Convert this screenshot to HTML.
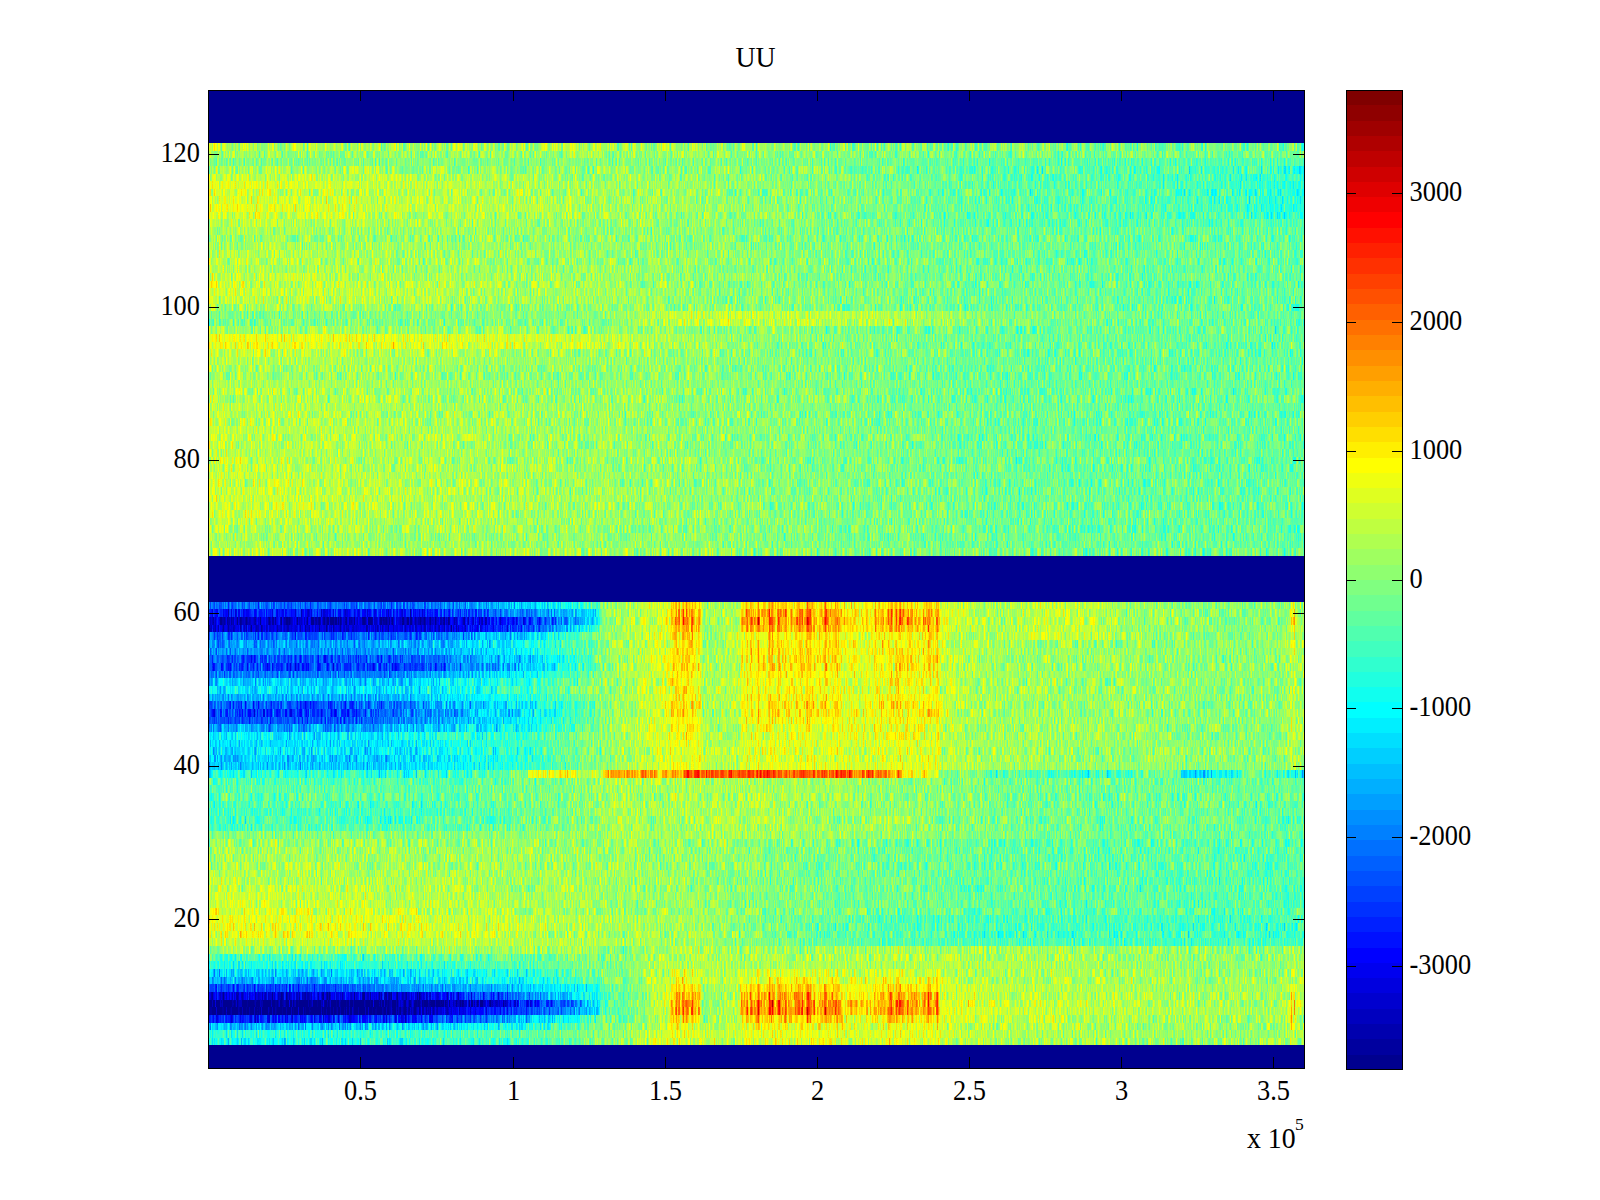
<!DOCTYPE html>
<html lang="en"><head><meta charset="utf-8"><title>UU</title>
<style>
html,body{margin:0;padding:0;background:#fff;overflow:hidden}
svg{display:block}
text{font-family:"Liberation Serif","DejaVu Serif",serif;font-size:27.8px;fill:#000}
</style></head>
<body>
<svg width="1600" height="1200" viewBox="0 0 1600 1200">
<defs>
<filter id="f" x="0" y="0" width="1" height="1" color-interpolation-filters="sRGB">
<feTurbulence type="fractalNoise" baseFrequency="0.57 0.004" numOctaves="2" seed="5" result="n"/>
<feColorMatrix in="n" type="matrix" values="1 0 0 0 0 1 0 0 0 0 1 0 0 0 0 0 0 0 0 1" result="m"/>
<feComposite in="SourceGraphic" in2="m" operator="arithmetic" k1="0" k2="1" k3="0.32" k4="-0.16" result="v"/>
<feComponentTransfer in="v">
<feFuncR type="discrete" tableValues="0 0 0 0 0 0 0 0 0 0 0 0 0 0 0 0 0 0 0 0 0 0 0 0 0.0625 0.125 0.1875 0.25 0.3125 0.375 0.4375 0.5 0.5625 0.625 0.6875 0.75 0.8125 0.875 0.9375 1 1 1 1 1 1 1 1 1 1 1 1 1 1 1 1 1 0.9375 0.875 0.8125 0.75 0.6875 0.625 0.5625 0.5"/>
<feFuncG type="discrete" tableValues="0 0 0 0 0 0 0 0 0.0625 0.125 0.1875 0.25 0.3125 0.375 0.4375 0.5 0.5625 0.625 0.6875 0.75 0.8125 0.875 0.9375 1 1 1 1 1 1 1 1 1 1 1 1 1 1 1 1 1 0.9375 0.875 0.8125 0.75 0.6875 0.625 0.5625 0.5 0.4375 0.375 0.3125 0.25 0.1875 0.125 0.0625 0 0 0 0 0 0 0 0 0"/>
<feFuncB type="discrete" tableValues="0.5625 0.625 0.6875 0.75 0.8125 0.875 0.9375 1 1 1 1 1 1 1 1 1 1 1 1 1 1 1 1 1 0.9375 0.875 0.8125 0.75 0.6875 0.625 0.5625 0.5 0.4375 0.375 0.3125 0.25 0.1875 0.125 0.0625 0 0 0 0 0 0 0 0 0 0 0 0 0 0 0 0 0 0 0 0 0 0 0 0 0"/>
</feComponentTransfer>
</filter>
<linearGradient id="gb" gradientUnits="userSpaceOnUse" x1="208" x2="1305"><stop offset="0.4193" stop-color="#fff" stop-opacity="0"/><stop offset="0.4202" stop-color="#fff" stop-opacity="0"/><stop offset="0.4211" stop-color="#fff" stop-opacity="0"/><stop offset="0.4221" stop-color="#fff" stop-opacity="0.354"/><stop offset="0.423" stop-color="#fff" stop-opacity="0.479"/><stop offset="0.4239" stop-color="#fff" stop-opacity="0.374"/><stop offset="0.4248" stop-color="#fff" stop-opacity="0.369"/><stop offset="0.4257" stop-color="#fff" stop-opacity="0.263"/><stop offset="0.4266" stop-color="#fff" stop-opacity="0.703"/><stop offset="0.4275" stop-color="#fff" stop-opacity="0.694"/><stop offset="0.4284" stop-color="#fff" stop-opacity="0.435"/><stop offset="0.4294" stop-color="#fff" stop-opacity="0.877"/><stop offset="0.4303" stop-color="#fff" stop-opacity="0.363"/><stop offset="0.4312" stop-color="#fff" stop-opacity="0.28"/><stop offset="0.4321" stop-color="#fff" stop-opacity="0.345"/><stop offset="0.433" stop-color="#fff" stop-opacity="0.932"/><stop offset="0.4339" stop-color="#fff" stop-opacity="0.683"/><stop offset="0.4348" stop-color="#fff" stop-opacity="0.435"/><stop offset="0.4357" stop-color="#fff" stop-opacity="0.585"/><stop offset="0.4366" stop-color="#fff" stop-opacity="0.85"/><stop offset="0.4376" stop-color="#fff" stop-opacity="0.481"/><stop offset="0.4385" stop-color="#fff" stop-opacity="0.591"/><stop offset="0.4394" stop-color="#fff" stop-opacity="0.366"/><stop offset="0.4403" stop-color="#fff" stop-opacity="0.465"/><stop offset="0.4412" stop-color="#fff" stop-opacity="1"/><stop offset="0.4421" stop-color="#fff" stop-opacity="0.795"/><stop offset="0.443" stop-color="#fff" stop-opacity="0.457"/><stop offset="0.4439" stop-color="#fff" stop-opacity="0.528"/><stop offset="0.4448" stop-color="#fff" stop-opacity="0.503"/><stop offset="0.4458" stop-color="#fff" stop-opacity="0.44"/><stop offset="0.4467" stop-color="#fff" stop-opacity="0.358"/><stop offset="0.4476" stop-color="#fff" stop-opacity="0.966"/><stop offset="0.4485" stop-color="#fff" stop-opacity="0.41"/><stop offset="0.4494" stop-color="#fff" stop-opacity="0.443"/><stop offset="0.4503" stop-color="#fff" stop-opacity="0"/><stop offset="0.4512" stop-color="#fff" stop-opacity="0"/><stop offset="0.4521" stop-color="#fff" stop-opacity="0"/><stop offset="0.4531" stop-color="#fff" stop-opacity="0"/><stop offset="0.454" stop-color="#fff" stop-opacity="0"/><stop offset="0.4549" stop-color="#fff" stop-opacity="0"/><stop offset="0.4558" stop-color="#fff" stop-opacity="0"/><stop offset="0.4567" stop-color="#fff" stop-opacity="0"/><stop offset="0.4576" stop-color="#fff" stop-opacity="0"/><stop offset="0.4585" stop-color="#fff" stop-opacity="0"/><stop offset="0.4594" stop-color="#fff" stop-opacity="0"/><stop offset="0.4603" stop-color="#fff" stop-opacity="0"/><stop offset="0.4613" stop-color="#fff" stop-opacity="0"/><stop offset="0.4622" stop-color="#fff" stop-opacity="0"/><stop offset="0.4631" stop-color="#fff" stop-opacity="0"/><stop offset="0.464" stop-color="#fff" stop-opacity="0"/><stop offset="0.4649" stop-color="#fff" stop-opacity="0"/><stop offset="0.4658" stop-color="#fff" stop-opacity="0"/><stop offset="0.4667" stop-color="#fff" stop-opacity="0"/><stop offset="0.4676" stop-color="#fff" stop-opacity="0"/><stop offset="0.4686" stop-color="#fff" stop-opacity="0"/><stop offset="0.4695" stop-color="#fff" stop-opacity="0"/><stop offset="0.4704" stop-color="#fff" stop-opacity="0"/><stop offset="0.4713" stop-color="#fff" stop-opacity="0"/><stop offset="0.4722" stop-color="#fff" stop-opacity="0"/><stop offset="0.4731" stop-color="#fff" stop-opacity="0"/><stop offset="0.474" stop-color="#fff" stop-opacity="0"/><stop offset="0.4749" stop-color="#fff" stop-opacity="0"/><stop offset="0.4758" stop-color="#fff" stop-opacity="0"/><stop offset="0.4768" stop-color="#fff" stop-opacity="0"/><stop offset="0.4777" stop-color="#fff" stop-opacity="0"/><stop offset="0.4786" stop-color="#fff" stop-opacity="0"/><stop offset="0.4795" stop-color="#fff" stop-opacity="0"/><stop offset="0.4804" stop-color="#fff" stop-opacity="0"/><stop offset="0.4813" stop-color="#fff" stop-opacity="0"/><stop offset="0.4822" stop-color="#fff" stop-opacity="0"/><stop offset="0.4831" stop-color="#fff" stop-opacity="0"/><stop offset="0.484" stop-color="#fff" stop-opacity="0"/><stop offset="0.485" stop-color="#fff" stop-opacity="0"/><stop offset="0.4859" stop-color="#fff" stop-opacity="0.438"/><stop offset="0.4868" stop-color="#fff" stop-opacity="0.526"/><stop offset="0.4877" stop-color="#fff" stop-opacity="0.446"/><stop offset="0.4886" stop-color="#fff" stop-opacity="0.337"/><stop offset="0.4895" stop-color="#fff" stop-opacity="0.401"/><stop offset="0.4904" stop-color="#fff" stop-opacity="0.395"/><stop offset="0.4913" stop-color="#fff" stop-opacity="0.92"/><stop offset="0.4923" stop-color="#fff" stop-opacity="0.345"/><stop offset="0.4932" stop-color="#fff" stop-opacity="0.423"/><stop offset="0.4941" stop-color="#fff" stop-opacity="0.434"/><stop offset="0.495" stop-color="#fff" stop-opacity="1"/><stop offset="0.4959" stop-color="#fff" stop-opacity="0.543"/><stop offset="0.4968" stop-color="#fff" stop-opacity="0.457"/><stop offset="0.4977" stop-color="#fff" stop-opacity="0.438"/><stop offset="0.4986" stop-color="#fff" stop-opacity="0.537"/><stop offset="0.4995" stop-color="#fff" stop-opacity="0.571"/><stop offset="0.5005" stop-color="#fff" stop-opacity="0.505"/><stop offset="0.5014" stop-color="#fff" stop-opacity="1"/><stop offset="0.5023" stop-color="#fff" stop-opacity="1"/><stop offset="0.5032" stop-color="#fff" stop-opacity="0.306"/><stop offset="0.5041" stop-color="#fff" stop-opacity="0.567"/><stop offset="0.505" stop-color="#fff" stop-opacity="0.38"/><stop offset="0.5059" stop-color="#fff" stop-opacity="0.442"/><stop offset="0.5068" stop-color="#fff" stop-opacity="0.543"/><stop offset="0.5077" stop-color="#fff" stop-opacity="0.518"/><stop offset="0.5087" stop-color="#fff" stop-opacity="0.34"/><stop offset="0.5096" stop-color="#fff" stop-opacity="0.5"/><stop offset="0.5105" stop-color="#fff" stop-opacity="0.315"/><stop offset="0.5114" stop-color="#fff" stop-opacity="0.979"/><stop offset="0.5123" stop-color="#fff" stop-opacity="1"/><stop offset="0.5132" stop-color="#fff" stop-opacity="0.427"/><stop offset="0.5141" stop-color="#fff" stop-opacity="0.957"/><stop offset="0.515" stop-color="#fff" stop-opacity="0.902"/><stop offset="0.516" stop-color="#fff" stop-opacity="0.55"/><stop offset="0.5169" stop-color="#fff" stop-opacity="0.531"/><stop offset="0.5178" stop-color="#fff" stop-opacity="0.296"/><stop offset="0.5187" stop-color="#fff" stop-opacity="0.425"/><stop offset="0.5196" stop-color="#fff" stop-opacity="1"/><stop offset="0.5205" stop-color="#fff" stop-opacity="0.795"/><stop offset="0.5214" stop-color="#fff" stop-opacity="0.85"/><stop offset="0.5223" stop-color="#fff" stop-opacity="0.484"/><stop offset="0.5232" stop-color="#fff" stop-opacity="0.553"/><stop offset="0.5242" stop-color="#fff" stop-opacity="0.588"/><stop offset="0.5251" stop-color="#fff" stop-opacity="0.334"/><stop offset="0.526" stop-color="#fff" stop-opacity="0.752"/><stop offset="0.5269" stop-color="#fff" stop-opacity="0.809"/><stop offset="0.5278" stop-color="#fff" stop-opacity="0.335"/><stop offset="0.5287" stop-color="#fff" stop-opacity="0.364"/><stop offset="0.5296" stop-color="#fff" stop-opacity="0.473"/><stop offset="0.5305" stop-color="#fff" stop-opacity="0.347"/><stop offset="0.5314" stop-color="#fff" stop-opacity="0.538"/><stop offset="0.5324" stop-color="#fff" stop-opacity="0.562"/><stop offset="0.5333" stop-color="#fff" stop-opacity="0.304"/><stop offset="0.5342" stop-color="#fff" stop-opacity="0.46"/><stop offset="0.5351" stop-color="#fff" stop-opacity="0.543"/><stop offset="0.536" stop-color="#fff" stop-opacity="0.598"/><stop offset="0.5369" stop-color="#fff" stop-opacity="0.716"/><stop offset="0.5378" stop-color="#fff" stop-opacity="0.616"/><stop offset="0.5387" stop-color="#fff" stop-opacity="0.568"/><stop offset="0.5397" stop-color="#fff" stop-opacity="1"/><stop offset="0.5406" stop-color="#fff" stop-opacity="0.355"/><stop offset="0.5415" stop-color="#fff" stop-opacity="1"/><stop offset="0.5424" stop-color="#fff" stop-opacity="0.519"/><stop offset="0.5433" stop-color="#fff" stop-opacity="0.558"/><stop offset="0.5442" stop-color="#fff" stop-opacity="0.346"/><stop offset="0.5451" stop-color="#fff" stop-opacity="0.502"/><stop offset="0.546" stop-color="#fff" stop-opacity="1"/><stop offset="0.5469" stop-color="#fff" stop-opacity="1"/><stop offset="0.5479" stop-color="#fff" stop-opacity="0.796"/><stop offset="0.5488" stop-color="#fff" stop-opacity="0.747"/><stop offset="0.5497" stop-color="#fff" stop-opacity="0.706"/><stop offset="0.5506" stop-color="#fff" stop-opacity="0.546"/><stop offset="0.5515" stop-color="#fff" stop-opacity="0.308"/><stop offset="0.5524" stop-color="#fff" stop-opacity="0.974"/><stop offset="0.5533" stop-color="#fff" stop-opacity="0.407"/><stop offset="0.5542" stop-color="#fff" stop-opacity="0.314"/><stop offset="0.5552" stop-color="#fff" stop-opacity="0.34"/><stop offset="0.5561" stop-color="#fff" stop-opacity="0.301"/><stop offset="0.557" stop-color="#fff" stop-opacity="0.458"/><stop offset="0.5579" stop-color="#fff" stop-opacity="0.511"/><stop offset="0.5588" stop-color="#fff" stop-opacity="0.427"/><stop offset="0.5597" stop-color="#fff" stop-opacity="0.336"/><stop offset="0.5606" stop-color="#fff" stop-opacity="0.397"/><stop offset="0.5615" stop-color="#fff" stop-opacity="0.478"/><stop offset="0.5624" stop-color="#fff" stop-opacity="1"/><stop offset="0.5634" stop-color="#fff" stop-opacity="1"/><stop offset="0.5643" stop-color="#fff" stop-opacity="0.369"/><stop offset="0.5652" stop-color="#fff" stop-opacity="0.611"/><stop offset="0.5661" stop-color="#fff" stop-opacity="0.553"/><stop offset="0.567" stop-color="#fff" stop-opacity="0.583"/><stop offset="0.5679" stop-color="#fff" stop-opacity="0.437"/><stop offset="0.5688" stop-color="#fff" stop-opacity="0.535"/><stop offset="0.5697" stop-color="#fff" stop-opacity="0.564"/><stop offset="0.5706" stop-color="#fff" stop-opacity="0.484"/><stop offset="0.5716" stop-color="#fff" stop-opacity="0.566"/><stop offset="0.5725" stop-color="#fff" stop-opacity="0.924"/><stop offset="0.5734" stop-color="#fff" stop-opacity="0.379"/><stop offset="0.5743" stop-color="#fff" stop-opacity="0.931"/><stop offset="0.5752" stop-color="#fff" stop-opacity="0.331"/><stop offset="0.5761" stop-color="#fff" stop-opacity="0.578"/><stop offset="0.577" stop-color="#fff" stop-opacity="0.235"/><stop offset="0.5779" stop-color="#fff" stop-opacity="0.497"/><stop offset="0.5789" stop-color="#fff" stop-opacity="0.174"/><stop offset="0.5798" stop-color="#fff" stop-opacity="0.224"/><stop offset="0.5807" stop-color="#fff" stop-opacity="0.233"/><stop offset="0.5816" stop-color="#fff" stop-opacity="0.193"/><stop offset="0.5825" stop-color="#fff" stop-opacity="0.251"/><stop offset="0.5834" stop-color="#fff" stop-opacity="0.254"/><stop offset="0.5843" stop-color="#fff" stop-opacity="0.216"/><stop offset="0.5852" stop-color="#fff" stop-opacity="0.288"/><stop offset="0.5861" stop-color="#fff" stop-opacity="0.423"/><stop offset="0.5871" stop-color="#fff" stop-opacity="0.381"/><stop offset="0.588" stop-color="#fff" stop-opacity="0.222"/><stop offset="0.5889" stop-color="#fff" stop-opacity="0.436"/><stop offset="0.5898" stop-color="#fff" stop-opacity="0.364"/><stop offset="0.5907" stop-color="#fff" stop-opacity="0.319"/><stop offset="0.5916" stop-color="#fff" stop-opacity="0.304"/><stop offset="0.5925" stop-color="#fff" stop-opacity="0.18"/><stop offset="0.5934" stop-color="#fff" stop-opacity="0.225"/><stop offset="0.5943" stop-color="#fff" stop-opacity="0.202"/><stop offset="0.5953" stop-color="#fff" stop-opacity="0.239"/><stop offset="0.5962" stop-color="#fff" stop-opacity="0.209"/><stop offset="0.5971" stop-color="#fff" stop-opacity="0.248"/><stop offset="0.598" stop-color="#fff" stop-opacity="0.32"/><stop offset="0.5989" stop-color="#fff" stop-opacity="0.227"/><stop offset="0.5998" stop-color="#fff" stop-opacity="0.273"/><stop offset="0.6007" stop-color="#fff" stop-opacity="0.543"/><stop offset="0.6016" stop-color="#fff" stop-opacity="0.291"/><stop offset="0.6026" stop-color="#fff" stop-opacity="0.172"/><stop offset="0.6035" stop-color="#fff" stop-opacity="0.29"/><stop offset="0.6044" stop-color="#fff" stop-opacity="0.324"/><stop offset="0.6053" stop-color="#fff" stop-opacity="0.265"/><stop offset="0.6062" stop-color="#fff" stop-opacity="0.211"/><stop offset="0.6071" stop-color="#fff" stop-opacity="0.277"/><stop offset="0.608" stop-color="#fff" stop-opacity="0.557"/><stop offset="0.6089" stop-color="#fff" stop-opacity="0.613"/><stop offset="0.6098" stop-color="#fff" stop-opacity="0.187"/><stop offset="0.6108" stop-color="#fff" stop-opacity="0.329"/><stop offset="0.6117" stop-color="#fff" stop-opacity="0.594"/><stop offset="0.6126" stop-color="#fff" stop-opacity="0.235"/><stop offset="0.6135" stop-color="#fff" stop-opacity="0.596"/><stop offset="0.6144" stop-color="#fff" stop-opacity="0.393"/><stop offset="0.6153" stop-color="#fff" stop-opacity="0.534"/><stop offset="0.6162" stop-color="#fff" stop-opacity="0.464"/><stop offset="0.6171" stop-color="#fff" stop-opacity="0.333"/><stop offset="0.618" stop-color="#fff" stop-opacity="0.425"/><stop offset="0.619" stop-color="#fff" stop-opacity="0.282"/><stop offset="0.6199" stop-color="#fff" stop-opacity="0.633"/><stop offset="0.6208" stop-color="#fff" stop-opacity="0.553"/><stop offset="0.6217" stop-color="#fff" stop-opacity="0.675"/><stop offset="0.6226" stop-color="#fff" stop-opacity="0.74"/><stop offset="0.6235" stop-color="#fff" stop-opacity="0.845"/><stop offset="0.6244" stop-color="#fff" stop-opacity="0.351"/><stop offset="0.6253" stop-color="#fff" stop-opacity="0.346"/><stop offset="0.6263" stop-color="#fff" stop-opacity="0.261"/><stop offset="0.6272" stop-color="#fff" stop-opacity="0.878"/><stop offset="0.6281" stop-color="#fff" stop-opacity="0.817"/><stop offset="0.629" stop-color="#fff" stop-opacity="0.392"/><stop offset="0.6299" stop-color="#fff" stop-opacity="0.79"/><stop offset="0.6308" stop-color="#fff" stop-opacity="0.827"/><stop offset="0.6317" stop-color="#fff" stop-opacity="0.653"/><stop offset="0.6326" stop-color="#fff" stop-opacity="0.442"/><stop offset="0.6335" stop-color="#fff" stop-opacity="0.794"/><stop offset="0.6345" stop-color="#fff" stop-opacity="0.307"/><stop offset="0.6354" stop-color="#fff" stop-opacity="0.363"/><stop offset="0.6363" stop-color="#fff" stop-opacity="0.392"/><stop offset="0.6372" stop-color="#fff" stop-opacity="0.3"/><stop offset="0.6381" stop-color="#fff" stop-opacity="0.937"/><stop offset="0.639" stop-color="#fff" stop-opacity="0.34"/><stop offset="0.6399" stop-color="#fff" stop-opacity="0.458"/><stop offset="0.6408" stop-color="#fff" stop-opacity="0.444"/><stop offset="0.6418" stop-color="#fff" stop-opacity="0.743"/><stop offset="0.6427" stop-color="#fff" stop-opacity="0.397"/><stop offset="0.6436" stop-color="#fff" stop-opacity="0.313"/><stop offset="0.6445" stop-color="#fff" stop-opacity="0.424"/><stop offset="0.6454" stop-color="#fff" stop-opacity="0.371"/><stop offset="0.6463" stop-color="#fff" stop-opacity="0.349"/><stop offset="0.6472" stop-color="#fff" stop-opacity="0.459"/><stop offset="0.6481" stop-color="#fff" stop-opacity="0.249"/><stop offset="0.649" stop-color="#fff" stop-opacity="0.374"/><stop offset="0.65" stop-color="#fff" stop-opacity="0.317"/><stop offset="0.6509" stop-color="#fff" stop-opacity="0.244"/><stop offset="0.6518" stop-color="#fff" stop-opacity="0.423"/><stop offset="0.6527" stop-color="#fff" stop-opacity="0.674"/><stop offset="0.6536" stop-color="#fff" stop-opacity="0.459"/><stop offset="0.6545" stop-color="#fff" stop-opacity="0.385"/><stop offset="0.6554" stop-color="#fff" stop-opacity="0.319"/><stop offset="0.6563" stop-color="#fff" stop-opacity="0.803"/><stop offset="0.6572" stop-color="#fff" stop-opacity="0.745"/><stop offset="0.6582" stop-color="#fff" stop-opacity="0.633"/><stop offset="0.6591" stop-color="#fff" stop-opacity="0.667"/><stop offset="0.66" stop-color="#fff" stop-opacity="0.328"/><stop offset="0.6609" stop-color="#fff" stop-opacity="0.325"/><stop offset="0.6618" stop-color="#fff" stop-opacity="0.454"/><stop offset="0.6627" stop-color="#fff" stop-opacity="0.317"/><stop offset="0.6636" stop-color="#fff" stop-opacity="0.457"/><stop offset="0.6645" stop-color="#fff" stop-opacity="0.922"/><stop offset="0.6655" stop-color="#fff" stop-opacity="0.643"/><stop offset="0.6664" stop-color="#fff" stop-opacity="0.319"/><stop offset="0.6673" stop-color="#fff" stop-opacity="0.0741"/><stop offset="0.6682" stop-color="#fff" stop-opacity="0.117"/><stop offset="0.6691" stop-color="#fff" stop-opacity="0.0813"/><stop offset="0.67" stop-color="#fff" stop-opacity="0.0653"/><stop offset="0.6709" stop-color="#fff" stop-opacity="0.176"/><stop offset="0.6718" stop-color="#fff" stop-opacity="0.187"/><stop offset="0.6727" stop-color="#fff" stop-opacity="0.0622"/><stop offset="0.6737" stop-color="#fff" stop-opacity="0.0948"/><stop offset="0.6746" stop-color="#fff" stop-opacity="0.175"/><stop offset="0.6755" stop-color="#fff" stop-opacity="0.101"/><stop offset="0.6764" stop-color="#fff" stop-opacity="0.161"/><stop offset="0.6773" stop-color="#fff" stop-opacity="0.0502"/><stop offset="0.6782" stop-color="#fff" stop-opacity="0.0935"/><stop offset="0.6791" stop-color="#fff" stop-opacity="0.0636"/><stop offset="0.68" stop-color="#fff" stop-opacity="0.0801"/><stop offset="0.6809" stop-color="#fff" stop-opacity="0.126"/><stop offset="0.6819" stop-color="#fff" stop-opacity="0.0473"/><stop offset="0.6828" stop-color="#fff" stop-opacity="0.0469"/><stop offset="0.6837" stop-color="#fff" stop-opacity="0.0477"/><stop offset="0.6846" stop-color="#fff" stop-opacity="0.109"/><stop offset="0.6855" stop-color="#fff" stop-opacity="0.0414"/><stop offset="0.6864" stop-color="#fff" stop-opacity="0.0401"/><stop offset="0.6873" stop-color="#fff" stop-opacity="0.15"/><stop offset="0.6882" stop-color="#fff" stop-opacity="0.098"/><stop offset="0.6892" stop-color="#fff" stop-opacity="0.0543"/><stop offset="0.6901" stop-color="#fff" stop-opacity="0.0386"/><stop offset="0.691" stop-color="#fff" stop-opacity="0.0409"/><stop offset="0.6919" stop-color="#fff" stop-opacity="0.0585"/><stop offset="0.6928" stop-color="#fff" stop-opacity="0.125"/><stop offset="0.6937" stop-color="#fff" stop-opacity="0.0455"/><stop offset="0.6946" stop-color="#fff" stop-opacity="0.0296"/><stop offset="0.6955" stop-color="#fff" stop-opacity="0.0911"/><stop offset="0.6964" stop-color="#fff" stop-opacity="0.0288"/><stop offset="0.6974" stop-color="#fff" stop-opacity="0.0905"/><stop offset="0.6983" stop-color="#fff" stop-opacity="0.0831"/><stop offset="0.6992" stop-color="#fff" stop-opacity="0.0477"/><stop offset="0.7001" stop-color="#fff" stop-opacity="0.0441"/><stop offset="0.701" stop-color="#fff" stop-opacity="0.0371"/><stop offset="0.7019" stop-color="#fff" stop-opacity="0.0307"/><stop offset="0.7028" stop-color="#fff" stop-opacity="0.0388"/><stop offset="0.7037" stop-color="#fff" stop-opacity="0.0377"/><stop offset="0.7046" stop-color="#fff" stop-opacity="0.0359"/><stop offset="0.7056" stop-color="#fff" stop-opacity="0.0311"/><stop offset="0.7065" stop-color="#fff" stop-opacity="0.0184"/><stop offset="0.7074" stop-color="#fff" stop-opacity="0.0496"/><stop offset="0.7083" stop-color="#fff" stop-opacity="0.0223"/><stop offset="0.7092" stop-color="#fff" stop-opacity="0.0211"/><stop offset="0.7101" stop-color="#fff" stop-opacity="0.0533"/><stop offset="0.711" stop-color="#fff" stop-opacity="0.0364"/><stop offset="0.7119" stop-color="#fff" stop-opacity="0.0306"/><stop offset="0.7129" stop-color="#fff" stop-opacity="0.0137"/><stop offset="0.7138" stop-color="#fff" stop-opacity="0.0161"/><stop offset="0.7147" stop-color="#fff" stop-opacity="0.00946"/><stop offset="0.7156" stop-color="#fff" stop-opacity="0.0103"/><stop offset="0.7165" stop-color="#fff" stop-opacity="0.00652"/><stop offset="0.7174" stop-color="#fff" stop-opacity="0.0113"/><stop offset="0.7183" stop-color="#fff" stop-opacity="0.0124"/><stop offset="0.7192" stop-color="#fff" stop-opacity="0.00902"/><stop offset="0.7201" stop-color="#fff" stop-opacity="0.00654"/><stop offset="0.7211" stop-color="#fff" stop-opacity="0.00359"/><stop offset="0.722" stop-color="#fff" stop-opacity="0"/><stop offset="0.7229" stop-color="#fff" stop-opacity="0"/><stop offset="0.7238" stop-color="#fff" stop-opacity="0"/><stop offset="0.7247" stop-color="#fff" stop-opacity="0"/><stop offset="0.9845" stop-color="#fff" stop-opacity="0"/><stop offset="0.9866" stop-color="#fff" stop-opacity="0"/><stop offset="0.9875" stop-color="#fff" stop-opacity="0.625"/><stop offset="0.9884" stop-color="#fff" stop-opacity="0.156"/><stop offset="0.9895" stop-color="#fff" stop-opacity="0.156"/><stop offset="0.9903" stop-color="#fff" stop-opacity="0.562"/><stop offset="0.9912" stop-color="#fff" stop-opacity="0.0625"/><stop offset="0.9927" stop-color="#fff" stop-opacity="0"/><stop offset="0.9991" stop-color="#fff" stop-opacity="0"/></linearGradient>
<linearGradient id="g4" gradientUnits="userSpaceOnUse" x1="208" x2="1305"><stop offset="0" stop-color="#616161"/><stop offset="0.1112" stop-color="#616161"/><stop offset="0.2935" stop-color="#717171"/><stop offset="0.3564" stop-color="#808080"/><stop offset="0.3582" stop-color="#818181"/><stop offset="0.3801" stop-color="#838383"/><stop offset="0.3984" stop-color="#8c8c8c"/><stop offset="0.4102" stop-color="#909090"/><stop offset="0.4211" stop-color="#929292"/><stop offset="0.4503" stop-color="#8e8e8e"/><stop offset="0.4576" stop-color="#8f8f8f"/><stop offset="0.4831" stop-color="#8f8f8f"/><stop offset="0.6673" stop-color="#909090"/><stop offset="0.722" stop-color="#8a8a8a"/><stop offset="0.8131" stop-color="#878787"/><stop offset="0.9043" stop-color="#848484"/><stop offset="0.9772" stop-color="#828282"/><stop offset="0.9845" stop-color="#898989"/><stop offset="0.9991" stop-color="#898989"/></linearGradient>
<linearGradient id="g5" gradientUnits="userSpaceOnUse" x1="208" x2="1305"><stop offset="0" stop-color="#686868"/><stop offset="0.1112" stop-color="#686868"/><stop offset="0.2935" stop-color="#757575"/><stop offset="0.3564" stop-color="#818181"/><stop offset="0.3582" stop-color="#808080"/><stop offset="0.3801" stop-color="#838383"/><stop offset="0.3984" stop-color="#8c8c8c"/><stop offset="0.4102" stop-color="#909090"/><stop offset="0.4211" stop-color="#929292"/><stop offset="0.4503" stop-color="#8d8d8d"/><stop offset="0.4576" stop-color="#8f8f8f"/><stop offset="0.4831" stop-color="#8f8f8f"/><stop offset="0.6673" stop-color="#909090"/><stop offset="0.722" stop-color="#8a8a8a"/><stop offset="0.8131" stop-color="#878787"/><stop offset="0.9043" stop-color="#848484"/><stop offset="0.9772" stop-color="#828282"/><stop offset="0.9845" stop-color="#898989"/><stop offset="0.9991" stop-color="#898989"/></linearGradient>
<linearGradient id="g6" gradientUnits="userSpaceOnUse" x1="208" x2="1305"><stop offset="0" stop-color="#4d4d4d"/><stop offset="0.1112" stop-color="#4d4d4d"/><stop offset="0.2935" stop-color="#656565"/><stop offset="0.3564" stop-color="#7a7a7a"/><stop offset="0.3582" stop-color="#7b7b7b"/><stop offset="0.3801" stop-color="#7d7d7d"/><stop offset="0.3984" stop-color="#878787"/><stop offset="0.4102" stop-color="#8d8d8d"/><stop offset="0.4211" stop-color="#8f8f8f"/><stop offset="0.4503" stop-color="#868686"/><stop offset="0.4576" stop-color="#8a8a8a"/><stop offset="0.4831" stop-color="#8b8b8b"/><stop offset="0.6673" stop-color="#8d8d8d"/><stop offset="0.722" stop-color="#8a8a8a"/><stop offset="0.8131" stop-color="#878787"/><stop offset="0.9043" stop-color="#848484"/><stop offset="0.9772" stop-color="#828282"/><stop offset="0.9845" stop-color="#898989"/><stop offset="0.9991" stop-color="#898989"/></linearGradient>
<linearGradient id="g7" gradientUnits="userSpaceOnUse" x1="208" x2="1305"><stop offset="0" stop-color="#252525"/><stop offset="0.175" stop-color="#252525"/><stop offset="0.2662" stop-color="#414141"/><stop offset="0.3209" stop-color="#5f5f5f"/><stop offset="0.3564" stop-color="#707070"/><stop offset="0.3582" stop-color="#767676"/><stop offset="0.3801" stop-color="#7a7a7a"/><stop offset="0.3984" stop-color="#848484"/><stop offset="0.4102" stop-color="#8d8d8d"/><stop offset="0.4211" stop-color="#8f8f8f"/><stop offset="0.4503" stop-color="#808080"/><stop offset="0.4576" stop-color="#878787"/><stop offset="0.4831" stop-color="#8b8b8b"/><stop offset="0.6673" stop-color="#8d8d8d"/><stop offset="0.722" stop-color="#8d8d8d"/><stop offset="0.8131" stop-color="#8a8a8a"/><stop offset="0.9043" stop-color="#868686"/><stop offset="0.9772" stop-color="#858585"/><stop offset="0.9845" stop-color="#8b8b8b"/><stop offset="0.9991" stop-color="#8b8b8b"/></linearGradient>
<linearGradient id="g8" gradientUnits="userSpaceOnUse" x1="208" x2="1305"><stop offset="0" stop-color="#000000"/><stop offset="0.1568" stop-color="#000000"/><stop offset="0.2024" stop-color="#0e0e0e"/><stop offset="0.2662" stop-color="#272727"/><stop offset="0.3209" stop-color="#3d3d3d"/><stop offset="0.3564" stop-color="#555555"/><stop offset="0.3582" stop-color="#727272"/><stop offset="0.3801" stop-color="#777777"/><stop offset="0.3984" stop-color="#838383"/><stop offset="0.4102" stop-color="#8f8f8f"/><stop offset="0.4211" stop-color="#909090"/><stop offset="0.4503" stop-color="#7a7a7a"/><stop offset="0.4576" stop-color="#848484"/><stop offset="0.4831" stop-color="#8d8d8d"/><stop offset="0.6673" stop-color="#8f8f8f"/><stop offset="0.722" stop-color="#909090"/><stop offset="0.8131" stop-color="#8c8c8c"/><stop offset="0.9043" stop-color="#898989"/><stop offset="0.9772" stop-color="#878787"/><stop offset="0.9845" stop-color="#8e8e8e"/><stop offset="0.9991" stop-color="#8e8e8e"/></linearGradient>
<linearGradient id="g9" gradientUnits="userSpaceOnUse" x1="208" x2="1305"><stop offset="0" stop-color="#000000"/><stop offset="0.175" stop-color="#000000"/><stop offset="0.2479" stop-color="#0b0b0b"/><stop offset="0.2935" stop-color="#242424"/><stop offset="0.3209" stop-color="#353535"/><stop offset="0.3391" stop-color="#434343"/><stop offset="0.3564" stop-color="#5b5b5b"/><stop offset="0.3582" stop-color="#727272"/><stop offset="0.3801" stop-color="#777777"/><stop offset="0.3984" stop-color="#838383"/><stop offset="0.4102" stop-color="#8f8f8f"/><stop offset="0.4211" stop-color="#909090"/><stop offset="0.4503" stop-color="#7a7a7a"/><stop offset="0.4576" stop-color="#858585"/><stop offset="0.4831" stop-color="#8d8d8d"/><stop offset="0.6673" stop-color="#8f8f8f"/><stop offset="0.722" stop-color="#909090"/><stop offset="0.8131" stop-color="#8c8c8c"/><stop offset="0.9043" stop-color="#898989"/><stop offset="0.9772" stop-color="#878787"/><stop offset="0.9845" stop-color="#8e8e8e"/><stop offset="0.9991" stop-color="#8e8e8e"/></linearGradient>
<linearGradient id="g10" gradientUnits="userSpaceOnUse" x1="208" x2="1305"><stop offset="0" stop-color="#141414"/><stop offset="0.1933" stop-color="#141414"/><stop offset="0.2662" stop-color="#313131"/><stop offset="0.3118" stop-color="#4f4f4f"/><stop offset="0.3564" stop-color="#646464"/><stop offset="0.3582" stop-color="#737373"/><stop offset="0.3801" stop-color="#787878"/><stop offset="0.3984" stop-color="#838383"/><stop offset="0.4102" stop-color="#8d8d8d"/><stop offset="0.4211" stop-color="#8f8f8f"/><stop offset="0.4503" stop-color="#7d7d7d"/><stop offset="0.4576" stop-color="#858585"/><stop offset="0.4831" stop-color="#8b8b8b"/><stop offset="0.6673" stop-color="#8d8d8d"/><stop offset="0.722" stop-color="#8e8e8e"/><stop offset="0.8131" stop-color="#8b8b8b"/><stop offset="0.9043" stop-color="#888888"/><stop offset="0.9772" stop-color="#868686"/><stop offset="0.9845" stop-color="#8d8d8d"/><stop offset="0.9991" stop-color="#8d8d8d"/></linearGradient>
<linearGradient id="g11" gradientUnits="userSpaceOnUse" x1="208" x2="1305"><stop offset="0" stop-color="#2f2f2f"/><stop offset="0.1112" stop-color="#2f2f2f"/><stop offset="0.175" stop-color="#434343"/><stop offset="0.2662" stop-color="#4c4c4c"/><stop offset="0.3209" stop-color="#5c5c5c"/><stop offset="0.3564" stop-color="#616161"/><stop offset="0.3582" stop-color="#777777"/><stop offset="0.3801" stop-color="#7a7a7a"/><stop offset="0.3984" stop-color="#858585"/><stop offset="0.4102" stop-color="#8d8d8d"/><stop offset="0.4211" stop-color="#8f8f8f"/><stop offset="0.4503" stop-color="#818181"/><stop offset="0.4576" stop-color="#878787"/><stop offset="0.4831" stop-color="#8b8b8b"/><stop offset="0.6673" stop-color="#8d8d8d"/><stop offset="0.722" stop-color="#8d8d8d"/><stop offset="0.8131" stop-color="#8a8a8a"/><stop offset="0.9043" stop-color="#868686"/><stop offset="0.9772" stop-color="#858585"/><stop offset="0.9845" stop-color="#8b8b8b"/><stop offset="0.9991" stop-color="#8b8b8b"/></linearGradient>
<linearGradient id="g12" gradientUnits="userSpaceOnUse" x1="208" x2="1305"><stop offset="0" stop-color="#4a4a4a"/><stop offset="0.1112" stop-color="#4a4a4a"/><stop offset="0.2935" stop-color="#636363"/><stop offset="0.3564" stop-color="#7a7a7a"/><stop offset="0.3582" stop-color="#7b7b7b"/><stop offset="0.3801" stop-color="#7d7d7d"/><stop offset="0.3984" stop-color="#878787"/><stop offset="0.4102" stop-color="#8d8d8d"/><stop offset="0.4211" stop-color="#8f8f8f"/><stop offset="0.4503" stop-color="#868686"/><stop offset="0.4576" stop-color="#8a8a8a"/><stop offset="0.4831" stop-color="#8b8b8b"/><stop offset="0.6673" stop-color="#8d8d8d"/><stop offset="0.722" stop-color="#8b8b8b"/><stop offset="0.8131" stop-color="#888888"/><stop offset="0.9043" stop-color="#858585"/><stop offset="0.9772" stop-color="#838383"/><stop offset="0.9845" stop-color="#8a8a8a"/><stop offset="0.9991" stop-color="#8a8a8a"/></linearGradient>
<linearGradient id="g13" gradientUnits="userSpaceOnUse" x1="208" x2="1305"><stop offset="0" stop-color="#545454"/><stop offset="0.1112" stop-color="#545454"/><stop offset="0.2935" stop-color="#696969"/><stop offset="0.3564" stop-color="#7c7c7c"/><stop offset="0.3582" stop-color="#7b7b7b"/><stop offset="0.3801" stop-color="#7d7d7d"/><stop offset="0.3984" stop-color="#868686"/><stop offset="0.4102" stop-color="#8b8b8b"/><stop offset="0.4211" stop-color="#8d8d8d"/><stop offset="0.4503" stop-color="#878787"/><stop offset="0.4576" stop-color="#898989"/><stop offset="0.4831" stop-color="#8a8a8a"/><stop offset="0.6673" stop-color="#8b8b8b"/><stop offset="0.722" stop-color="#8a8a8a"/><stop offset="0.8131" stop-color="#878787"/><stop offset="0.9043" stop-color="#848484"/><stop offset="0.9772" stop-color="#828282"/><stop offset="0.9845" stop-color="#898989"/><stop offset="0.9991" stop-color="#898989"/></linearGradient>
<linearGradient id="g14" gradientUnits="userSpaceOnUse" x1="208" x2="1305"><stop offset="0" stop-color="#656565"/><stop offset="0.1112" stop-color="#656565"/><stop offset="0.2935" stop-color="#737373"/><stop offset="0.3564" stop-color="#808080"/><stop offset="0.3582" stop-color="#7c7c7c"/><stop offset="0.3801" stop-color="#7e7e7e"/><stop offset="0.3984" stop-color="#868686"/><stop offset="0.4102" stop-color="#8a8a8a"/><stop offset="0.4211" stop-color="#8b8b8b"/><stop offset="0.4503" stop-color="#8a8a8a"/><stop offset="0.4576" stop-color="#8a8a8a"/><stop offset="0.4831" stop-color="#888888"/><stop offset="0.6673" stop-color="#8a8a8a"/><stop offset="0.722" stop-color="#8a8a8a"/><stop offset="0.8131" stop-color="#868686"/><stop offset="0.9043" stop-color="#838383"/><stop offset="0.9772" stop-color="#818181"/><stop offset="0.9845" stop-color="#888888"/><stop offset="0.9991" stop-color="#888888"/></linearGradient>
<linearGradient id="g15" gradientUnits="userSpaceOnUse" x1="208" x2="1305"><stop offset="0" stop-color="#6f6f6f"/><stop offset="0.1112" stop-color="#6f6f6f"/><stop offset="0.2935" stop-color="#797979"/><stop offset="0.3564" stop-color="#838383"/><stop offset="0.3582" stop-color="#7c7c7c"/><stop offset="0.3801" stop-color="#7e7e7e"/><stop offset="0.3984" stop-color="#868686"/><stop offset="0.4102" stop-color="#8a8a8a"/><stop offset="0.4211" stop-color="#8b8b8b"/><stop offset="0.4503" stop-color="#8a8a8a"/><stop offset="0.4576" stop-color="#8a8a8a"/><stop offset="0.4831" stop-color="#888888"/><stop offset="0.6673" stop-color="#8a8a8a"/><stop offset="0.722" stop-color="#8a8a8a"/><stop offset="0.8131" stop-color="#868686"/><stop offset="0.9043" stop-color="#838383"/><stop offset="0.9772" stop-color="#818181"/><stop offset="0.9845" stop-color="#888888"/><stop offset="0.9991" stop-color="#888888"/></linearGradient>
<linearGradient id="g16" gradientUnits="userSpaceOnUse" x1="208" x2="1305"><stop offset="0" stop-color="#858585"/><stop offset="0.1568" stop-color="#858585"/><stop offset="0.2935" stop-color="#878787"/><stop offset="0.3564" stop-color="#898989"/><stop offset="0.3582" stop-color="#7a7a7a"/><stop offset="0.3801" stop-color="#7c7c7c"/><stop offset="0.3984" stop-color="#858585"/><stop offset="0.4102" stop-color="#888888"/><stop offset="0.4211" stop-color="#8a8a8a"/><stop offset="0.4503" stop-color="#888888"/><stop offset="0.4576" stop-color="#888888"/><stop offset="0.4831" stop-color="#868686"/><stop offset="0.6673" stop-color="#888888"/><stop offset="0.722" stop-color="#898989"/><stop offset="0.8131" stop-color="#868686"/><stop offset="0.9043" stop-color="#828282"/><stop offset="0.9772" stop-color="#818181"/><stop offset="0.9845" stop-color="#878787"/><stop offset="0.9991" stop-color="#878787"/></linearGradient>
<linearGradient id="g17" gradientUnits="userSpaceOnUse" x1="208" x2="1305"><stop offset="0" stop-color="#919191"/><stop offset="0.1294" stop-color="#909090"/><stop offset="0.3756" stop-color="#888888"/><stop offset="0.4485" stop-color="#868686"/><stop offset="0.5397" stop-color="#797979"/><stop offset="0.6308" stop-color="#727272"/><stop offset="0.722" stop-color="#707070"/><stop offset="0.9991" stop-color="#6e6e6e"/></linearGradient>
<linearGradient id="g18" gradientUnits="userSpaceOnUse" x1="208" x2="1305"><stop offset="0" stop-color="#989898"/><stop offset="0.1294" stop-color="#969696"/><stop offset="0.3756" stop-color="#888888"/><stop offset="0.4485" stop-color="#868686"/><stop offset="0.5397" stop-color="#797979"/><stop offset="0.6308" stop-color="#727272"/><stop offset="0.722" stop-color="#707070"/><stop offset="0.9991" stop-color="#6e6e6e"/></linearGradient>
<linearGradient id="g19" gradientUnits="userSpaceOnUse" x1="208" x2="1305"><stop offset="0" stop-color="#9a9a9a"/><stop offset="0.1294" stop-color="#989898"/><stop offset="0.3756" stop-color="#888888"/><stop offset="0.4485" stop-color="#868686"/><stop offset="0.5397" stop-color="#797979"/><stop offset="0.6308" stop-color="#727272"/><stop offset="0.722" stop-color="#707070"/><stop offset="0.9991" stop-color="#6e6e6e"/></linearGradient>
<linearGradient id="g20" gradientUnits="userSpaceOnUse" x1="208" x2="1305"><stop offset="0" stop-color="#989898"/><stop offset="0.1294" stop-color="#969696"/><stop offset="0.3756" stop-color="#888888"/><stop offset="0.4485" stop-color="#868686"/><stop offset="0.5397" stop-color="#797979"/><stop offset="0.6308" stop-color="#727272"/><stop offset="0.722" stop-color="#707070"/><stop offset="0.9991" stop-color="#6e6e6e"/></linearGradient>
<linearGradient id="g21" gradientUnits="userSpaceOnUse" x1="208" x2="1305"><stop offset="0" stop-color="#939393"/><stop offset="0.1294" stop-color="#919191"/><stop offset="0.3756" stop-color="#858585"/><stop offset="0.4485" stop-color="#838383"/><stop offset="0.5397" stop-color="#7d7d7d"/><stop offset="0.722" stop-color="#777777"/><stop offset="0.9991" stop-color="#737373"/></linearGradient>
<linearGradient id="g22" gradientUnits="userSpaceOnUse" x1="208" x2="1305"><stop offset="0" stop-color="#919191"/><stop offset="0.1294" stop-color="#909090"/><stop offset="0.3756" stop-color="#858585"/><stop offset="0.4485" stop-color="#838383"/><stop offset="0.5397" stop-color="#7d7d7d"/><stop offset="0.722" stop-color="#777777"/><stop offset="0.9991" stop-color="#737373"/></linearGradient>
<linearGradient id="g23" gradientUnits="userSpaceOnUse" x1="208" x2="1305"><stop offset="0" stop-color="#909090"/><stop offset="0.1294" stop-color="#8e8e8e"/><stop offset="0.3756" stop-color="#858585"/><stop offset="0.4485" stop-color="#838383"/><stop offset="0.5397" stop-color="#7d7d7d"/><stop offset="0.722" stop-color="#777777"/><stop offset="0.9991" stop-color="#737373"/></linearGradient>
<linearGradient id="g24" gradientUnits="userSpaceOnUse" x1="208" x2="1305"><stop offset="0" stop-color="#8e8e8e"/><stop offset="0.1294" stop-color="#8d8d8d"/><stop offset="0.3756" stop-color="#858585"/><stop offset="0.4485" stop-color="#838383"/><stop offset="0.5397" stop-color="#7d7d7d"/><stop offset="0.722" stop-color="#777777"/><stop offset="0.9991" stop-color="#737373"/></linearGradient>
<linearGradient id="g25" gradientUnits="userSpaceOnUse" x1="208" x2="1305"><stop offset="0" stop-color="#8c8c8c"/><stop offset="0.1294" stop-color="#8b8b8b"/><stop offset="0.3756" stop-color="#858585"/><stop offset="0.4485" stop-color="#838383"/><stop offset="0.5397" stop-color="#7d7d7d"/><stop offset="0.722" stop-color="#777777"/><stop offset="0.9991" stop-color="#737373"/></linearGradient>
<linearGradient id="g26" gradientUnits="userSpaceOnUse" x1="208" x2="1305"><stop offset="0" stop-color="#8a8a8a"/><stop offset="0.1294" stop-color="#8a8a8a"/><stop offset="0.3756" stop-color="#858585"/><stop offset="0.4485" stop-color="#838383"/><stop offset="0.5397" stop-color="#7d7d7d"/><stop offset="0.722" stop-color="#777777"/><stop offset="0.9991" stop-color="#737373"/></linearGradient>
<linearGradient id="g27" gradientUnits="userSpaceOnUse" x1="208" x2="1305"><stop offset="0" stop-color="#898989"/><stop offset="0.1294" stop-color="#888888"/><stop offset="0.3756" stop-color="#858585"/><stop offset="0.4485" stop-color="#838383"/><stop offset="0.5397" stop-color="#7d7d7d"/><stop offset="0.722" stop-color="#777777"/><stop offset="0.9991" stop-color="#737373"/></linearGradient>
<linearGradient id="g28" gradientUnits="userSpaceOnUse" x1="208" x2="1305"><stop offset="0" stop-color="#878787"/><stop offset="0.1294" stop-color="#878787"/><stop offset="0.3756" stop-color="#858585"/><stop offset="0.4485" stop-color="#838383"/><stop offset="0.5397" stop-color="#7d7d7d"/><stop offset="0.722" stop-color="#777777"/><stop offset="0.9991" stop-color="#737373"/></linearGradient>
<linearGradient id="g29" gradientUnits="userSpaceOnUse" x1="208" x2="1305"><stop offset="0" stop-color="#868686"/><stop offset="0.1294" stop-color="#868686"/><stop offset="0.3756" stop-color="#858585"/><stop offset="0.4485" stop-color="#838383"/><stop offset="0.5397" stop-color="#7d7d7d"/><stop offset="0.722" stop-color="#777777"/><stop offset="0.9991" stop-color="#737373"/></linearGradient>
<linearGradient id="g30" gradientUnits="userSpaceOnUse" x1="208" x2="1305"><stop offset="0" stop-color="#848484"/><stop offset="0.1294" stop-color="#848484"/><stop offset="0.3756" stop-color="#858585"/><stop offset="0.4485" stop-color="#838383"/><stop offset="0.5397" stop-color="#7d7d7d"/><stop offset="0.722" stop-color="#777777"/><stop offset="0.9991" stop-color="#737373"/></linearGradient>
<linearGradient id="g31" gradientUnits="userSpaceOnUse" x1="208" x2="1305"><stop offset="0" stop-color="#808080"/><stop offset="0.2115" stop-color="#808080"/><stop offset="0.3209" stop-color="#828282"/><stop offset="0.3573" stop-color="#858585"/><stop offset="0.3756" stop-color="#888888"/><stop offset="0.4941" stop-color="#888888"/><stop offset="0.6308" stop-color="#838383"/><stop offset="0.722" stop-color="#7c7c7c"/><stop offset="0.9991" stop-color="#777777"/></linearGradient>
<linearGradient id="g32" gradientUnits="userSpaceOnUse" x1="208" x2="1305"><stop offset="0" stop-color="#717171"/><stop offset="0.2115" stop-color="#737373"/><stop offset="0.3209" stop-color="#7d7d7d"/><stop offset="0.3573" stop-color="#858585"/><stop offset="0.3756" stop-color="#888888"/><stop offset="0.4941" stop-color="#888888"/><stop offset="0.6308" stop-color="#838383"/><stop offset="0.722" stop-color="#7c7c7c"/><stop offset="0.9991" stop-color="#777777"/></linearGradient>
<linearGradient id="g33" gradientUnits="userSpaceOnUse" x1="208" x2="1305"><stop offset="0" stop-color="#6e6e6e"/><stop offset="0.2115" stop-color="#707070"/><stop offset="0.3209" stop-color="#7c7c7c"/><stop offset="0.3573" stop-color="#858585"/><stop offset="0.3756" stop-color="#888888"/><stop offset="0.4941" stop-color="#888888"/><stop offset="0.6308" stop-color="#838383"/><stop offset="0.722" stop-color="#7c7c7c"/><stop offset="0.9991" stop-color="#777777"/></linearGradient>
<linearGradient id="g34" gradientUnits="userSpaceOnUse" x1="208" x2="1305"><stop offset="0" stop-color="#6e6e6e"/><stop offset="0.2115" stop-color="#707070"/><stop offset="0.3209" stop-color="#7c7c7c"/><stop offset="0.3573" stop-color="#858585"/><stop offset="0.3756" stop-color="#888888"/><stop offset="0.4941" stop-color="#888888"/><stop offset="0.6308" stop-color="#838383"/><stop offset="0.722" stop-color="#7c7c7c"/><stop offset="0.9991" stop-color="#777777"/></linearGradient>
<linearGradient id="g35" gradientUnits="userSpaceOnUse" x1="208" x2="1305"><stop offset="0" stop-color="#717171"/><stop offset="0.2115" stop-color="#737373"/><stop offset="0.3209" stop-color="#7d7d7d"/><stop offset="0.3573" stop-color="#858585"/><stop offset="0.3756" stop-color="#888888"/><stop offset="0.4941" stop-color="#888888"/><stop offset="0.6308" stop-color="#838383"/><stop offset="0.722" stop-color="#7c7c7c"/><stop offset="0.9991" stop-color="#777777"/></linearGradient>
<linearGradient id="g36" gradientUnits="userSpaceOnUse" x1="208" x2="1305"><stop offset="0" stop-color="#747474"/><stop offset="0.2115" stop-color="#767676"/><stop offset="0.3209" stop-color="#7e7e7e"/><stop offset="0.3573" stop-color="#858585"/><stop offset="0.3756" stop-color="#888888"/><stop offset="0.4941" stop-color="#888888"/><stop offset="0.6308" stop-color="#838383"/><stop offset="0.722" stop-color="#7c7c7c"/><stop offset="0.9991" stop-color="#777777"/></linearGradient>
<linearGradient id="g37" gradientUnits="userSpaceOnUse" x1="208" x2="1305"><stop offset="0" stop-color="#747474"/><stop offset="0.2115" stop-color="#767676"/><stop offset="0.3209" stop-color="#7e7e7e"/><stop offset="0.3573" stop-color="#858585"/><stop offset="0.3756" stop-color="#888888"/><stop offset="0.4941" stop-color="#888888"/><stop offset="0.6308" stop-color="#838383"/><stop offset="0.722" stop-color="#7c7c7c"/><stop offset="0.9991" stop-color="#777777"/></linearGradient>
<linearGradient id="g38" gradientUnits="userSpaceOnUse" x1="208" x2="1305"><stop offset="0" stop-color="#717171"/><stop offset="0.2115" stop-color="#737373"/><stop offset="0.3209" stop-color="#7d7d7d"/><stop offset="0.3573" stop-color="#858585"/><stop offset="0.3756" stop-color="#888888"/><stop offset="0.4941" stop-color="#888888"/><stop offset="0.6308" stop-color="#838383"/><stop offset="0.722" stop-color="#7c7c7c"/><stop offset="0.9991" stop-color="#777777"/></linearGradient>
<linearGradient id="g39" gradientUnits="userSpaceOnUse" x1="208" x2="1305"><stop offset="0" stop-color="#656565"/><stop offset="0.175" stop-color="#686868"/><stop offset="0.2479" stop-color="#6f6f6f"/><stop offset="0.2662" stop-color="#7c7c7c"/><stop offset="0.2908" stop-color="#808080"/><stop offset="0.2944" stop-color="#9a9a9a"/><stop offset="0.3345" stop-color="#9a9a9a"/><stop offset="0.3373" stop-color="#8d8d8d"/><stop offset="0.3573" stop-color="#909090"/><stop offset="0.361" stop-color="#aeaeae"/><stop offset="0.3938" stop-color="#b9b9b9"/><stop offset="0.412" stop-color="#ababab"/><stop offset="0.433" stop-color="#b5b5b5"/><stop offset="0.4357" stop-color="#d0d0d0"/><stop offset="0.4667" stop-color="#c3c3c3"/><stop offset="0.5032" stop-color="#cdcdcd"/><stop offset="0.5397" stop-color="#bfbfbf"/><stop offset="0.567" stop-color="#cdcdcd"/><stop offset="0.5852" stop-color="#c9c9c9"/><stop offset="0.6035" stop-color="#bfbfbf"/><stop offset="0.6308" stop-color="#b5b5b5"/><stop offset="0.6363" stop-color="#a1a1a1"/><stop offset="0.6627" stop-color="#979797"/><stop offset="0.6673" stop-color="#838383"/><stop offset="0.7065" stop-color="#808080"/><stop offset="0.7101" stop-color="#707070"/><stop offset="0.7584" stop-color="#747474"/><stop offset="0.7949" stop-color="#6a6a6a"/><stop offset="0.8432" stop-color="#6d6d6d"/><stop offset="0.8469" stop-color="#797979"/><stop offset="0.8842" stop-color="#797979"/><stop offset="0.887" stop-color="#575757"/><stop offset="0.9043" stop-color="#515151"/><stop offset="0.9389" stop-color="#656565"/><stop offset="0.9426" stop-color="#757575"/><stop offset="0.9809" stop-color="#757575"/><stop offset="0.9836" stop-color="#5e5e5e"/><stop offset="0.9991" stop-color="#5e5e5e"/></linearGradient>
<linearGradient id="g40" gradientUnits="userSpaceOnUse" x1="208" x2="1305"><stop offset="0" stop-color="#515151"/><stop offset="0.1568" stop-color="#515151"/><stop offset="0.2935" stop-color="#6a6a6a"/><stop offset="0.3564" stop-color="#7f7f7f"/><stop offset="0.3582" stop-color="#818181"/><stop offset="0.3756" stop-color="#868686"/><stop offset="0.4029" stop-color="#909090"/><stop offset="0.4221" stop-color="#959595"/><stop offset="0.4503" stop-color="#8d8d8d"/><stop offset="0.4576" stop-color="#888888"/><stop offset="0.4831" stop-color="#8b8b8b"/><stop offset="0.4859" stop-color="#8d8d8d"/><stop offset="0.6673" stop-color="#8f8f8f"/><stop offset="0.6718" stop-color="#8b8b8b"/><stop offset="0.722" stop-color="#868686"/><stop offset="0.8131" stop-color="#848484"/><stop offset="0.9043" stop-color="#818181"/><stop offset="0.9772" stop-color="#808080"/><stop offset="0.9845" stop-color="#868686"/><stop offset="0.9991" stop-color="#868686"/></linearGradient>
<linearGradient id="g41" gradientUnits="userSpaceOnUse" x1="208" x2="1305"><stop offset="0" stop-color="#515151"/><stop offset="0.1568" stop-color="#515151"/><stop offset="0.2935" stop-color="#6a6a6a"/><stop offset="0.3564" stop-color="#7f7f7f"/><stop offset="0.3582" stop-color="#818181"/><stop offset="0.3756" stop-color="#868686"/><stop offset="0.4029" stop-color="#909090"/><stop offset="0.4221" stop-color="#959595"/><stop offset="0.4503" stop-color="#8e8e8e"/><stop offset="0.4576" stop-color="#888888"/><stop offset="0.4831" stop-color="#8b8b8b"/><stop offset="0.4859" stop-color="#8d8d8d"/><stop offset="0.6673" stop-color="#8f8f8f"/><stop offset="0.6718" stop-color="#8b8b8b"/><stop offset="0.722" stop-color="#868686"/><stop offset="0.8131" stop-color="#848484"/><stop offset="0.9043" stop-color="#818181"/><stop offset="0.9772" stop-color="#808080"/><stop offset="0.9845" stop-color="#868686"/><stop offset="0.9991" stop-color="#868686"/></linearGradient>
<linearGradient id="g42" gradientUnits="userSpaceOnUse" x1="208" x2="1305"><stop offset="0" stop-color="#575757"/><stop offset="0.1568" stop-color="#575757"/><stop offset="0.2935" stop-color="#6e6e6e"/><stop offset="0.3564" stop-color="#818181"/><stop offset="0.3582" stop-color="#818181"/><stop offset="0.3756" stop-color="#868686"/><stop offset="0.4029" stop-color="#909090"/><stop offset="0.4221" stop-color="#959595"/><stop offset="0.4503" stop-color="#8e8e8e"/><stop offset="0.4576" stop-color="#888888"/><stop offset="0.4831" stop-color="#8b8b8b"/><stop offset="0.4859" stop-color="#8d8d8d"/><stop offset="0.6673" stop-color="#8f8f8f"/><stop offset="0.6718" stop-color="#8b8b8b"/><stop offset="0.722" stop-color="#868686"/><stop offset="0.8131" stop-color="#848484"/><stop offset="0.9043" stop-color="#818181"/><stop offset="0.9772" stop-color="#808080"/><stop offset="0.9845" stop-color="#868686"/><stop offset="0.9991" stop-color="#868686"/></linearGradient>
<linearGradient id="g43" gradientUnits="userSpaceOnUse" x1="208" x2="1305"><stop offset="0" stop-color="#575757"/><stop offset="0.1568" stop-color="#575757"/><stop offset="0.2935" stop-color="#6e6e6e"/><stop offset="0.3564" stop-color="#818181"/><stop offset="0.3582" stop-color="#818181"/><stop offset="0.3756" stop-color="#868686"/><stop offset="0.4029" stop-color="#909090"/><stop offset="0.4221" stop-color="#959595"/><stop offset="0.4503" stop-color="#8d8d8d"/><stop offset="0.4576" stop-color="#888888"/><stop offset="0.4831" stop-color="#8b8b8b"/><stop offset="0.4859" stop-color="#8d8d8d"/><stop offset="0.6673" stop-color="#8f8f8f"/><stop offset="0.6718" stop-color="#8b8b8b"/><stop offset="0.722" stop-color="#868686"/><stop offset="0.8131" stop-color="#848484"/><stop offset="0.9043" stop-color="#818181"/><stop offset="0.9772" stop-color="#808080"/><stop offset="0.9845" stop-color="#868686"/><stop offset="0.9991" stop-color="#868686"/></linearGradient>
<linearGradient id="g44" gradientUnits="userSpaceOnUse" x1="208" x2="1305"><stop offset="0" stop-color="#5b5b5b"/><stop offset="0.1568" stop-color="#5b5b5b"/><stop offset="0.2935" stop-color="#707070"/><stop offset="0.3564" stop-color="#818181"/><stop offset="0.3582" stop-color="#818181"/><stop offset="0.3756" stop-color="#868686"/><stop offset="0.4029" stop-color="#909090"/><stop offset="0.4221" stop-color="#959595"/><stop offset="0.4503" stop-color="#8d8d8d"/><stop offset="0.4576" stop-color="#888888"/><stop offset="0.4831" stop-color="#8b8b8b"/><stop offset="0.4859" stop-color="#8d8d8d"/><stop offset="0.6673" stop-color="#8f8f8f"/><stop offset="0.6718" stop-color="#8b8b8b"/><stop offset="0.722" stop-color="#868686"/><stop offset="0.8131" stop-color="#848484"/><stop offset="0.9043" stop-color="#818181"/><stop offset="0.9772" stop-color="#808080"/><stop offset="0.9845" stop-color="#868686"/><stop offset="0.9991" stop-color="#868686"/></linearGradient>
<linearGradient id="g45" gradientUnits="userSpaceOnUse" x1="208" x2="1305"><stop offset="0" stop-color="#464646"/><stop offset="0.1568" stop-color="#464646"/><stop offset="0.2935" stop-color="#656565"/><stop offset="0.3564" stop-color="#7d7d7d"/><stop offset="0.3582" stop-color="#818181"/><stop offset="0.3756" stop-color="#868686"/><stop offset="0.4029" stop-color="#909090"/><stop offset="0.4221" stop-color="#959595"/><stop offset="0.4503" stop-color="#8c8c8c"/><stop offset="0.4576" stop-color="#888888"/><stop offset="0.4831" stop-color="#8b8b8b"/><stop offset="0.4859" stop-color="#8d8d8d"/><stop offset="0.6673" stop-color="#8f8f8f"/><stop offset="0.6718" stop-color="#8b8b8b"/><stop offset="0.722" stop-color="#868686"/><stop offset="0.8131" stop-color="#848484"/><stop offset="0.9043" stop-color="#818181"/><stop offset="0.9772" stop-color="#808080"/><stop offset="0.9845" stop-color="#868686"/><stop offset="0.9991" stop-color="#868686"/></linearGradient>
<linearGradient id="g46" gradientUnits="userSpaceOnUse" x1="208" x2="1305"><stop offset="0" stop-color="#323232"/><stop offset="0.1294" stop-color="#323232"/><stop offset="0.2935" stop-color="#5e5e5e"/><stop offset="0.3564" stop-color="#7a7a7a"/><stop offset="0.3582" stop-color="#818181"/><stop offset="0.3756" stop-color="#868686"/><stop offset="0.4029" stop-color="#909090"/><stop offset="0.4221" stop-color="#959595"/><stop offset="0.4503" stop-color="#8a8a8a"/><stop offset="0.4576" stop-color="#878787"/><stop offset="0.4831" stop-color="#8b8b8b"/><stop offset="0.4859" stop-color="#8d8d8d"/><stop offset="0.6673" stop-color="#8f8f8f"/><stop offset="0.6718" stop-color="#8b8b8b"/><stop offset="0.722" stop-color="#868686"/><stop offset="0.8131" stop-color="#848484"/><stop offset="0.9043" stop-color="#818181"/><stop offset="0.9772" stop-color="#808080"/><stop offset="0.9845" stop-color="#868686"/><stop offset="0.9991" stop-color="#868686"/></linearGradient>
<linearGradient id="g47" gradientUnits="userSpaceOnUse" x1="208" x2="1305"><stop offset="0" stop-color="#2c2c2c"/><stop offset="0.1294" stop-color="#2c2c2c"/><stop offset="0.2935" stop-color="#5b5b5b"/><stop offset="0.3564" stop-color="#797979"/><stop offset="0.3582" stop-color="#818181"/><stop offset="0.3756" stop-color="#868686"/><stop offset="0.4029" stop-color="#909090"/><stop offset="0.4221" stop-color="#959595"/><stop offset="0.4503" stop-color="#898989"/><stop offset="0.4576" stop-color="#868686"/><stop offset="0.4831" stop-color="#8b8b8b"/><stop offset="0.4859" stop-color="#8d8d8d"/><stop offset="0.6673" stop-color="#8f8f8f"/><stop offset="0.6718" stop-color="#8b8b8b"/><stop offset="0.722" stop-color="#868686"/><stop offset="0.8131" stop-color="#848484"/><stop offset="0.9043" stop-color="#818181"/><stop offset="0.9772" stop-color="#808080"/><stop offset="0.9845" stop-color="#868686"/><stop offset="0.9991" stop-color="#868686"/></linearGradient>
<linearGradient id="g48" gradientUnits="userSpaceOnUse" x1="208" x2="1305"><stop offset="0" stop-color="#323232"/><stop offset="0.1294" stop-color="#323232"/><stop offset="0.2935" stop-color="#5e5e5e"/><stop offset="0.3564" stop-color="#7a7a7a"/><stop offset="0.3582" stop-color="#818181"/><stop offset="0.3756" stop-color="#868686"/><stop offset="0.4029" stop-color="#909090"/><stop offset="0.4221" stop-color="#959595"/><stop offset="0.4503" stop-color="#898989"/><stop offset="0.4576" stop-color="#868686"/><stop offset="0.4831" stop-color="#8b8b8b"/><stop offset="0.4859" stop-color="#8d8d8d"/><stop offset="0.6673" stop-color="#8f8f8f"/><stop offset="0.6718" stop-color="#8b8b8b"/><stop offset="0.722" stop-color="#868686"/><stop offset="0.8131" stop-color="#848484"/><stop offset="0.9043" stop-color="#818181"/><stop offset="0.9772" stop-color="#808080"/><stop offset="0.9845" stop-color="#868686"/><stop offset="0.9991" stop-color="#868686"/></linearGradient>
<linearGradient id="g49" gradientUnits="userSpaceOnUse" x1="208" x2="1305"><stop offset="0" stop-color="#4a4a4a"/><stop offset="0.1568" stop-color="#4a4a4a"/><stop offset="0.2935" stop-color="#676767"/><stop offset="0.3564" stop-color="#7e7e7e"/><stop offset="0.3582" stop-color="#818181"/><stop offset="0.3756" stop-color="#868686"/><stop offset="0.4029" stop-color="#909090"/><stop offset="0.4221" stop-color="#959595"/><stop offset="0.4503" stop-color="#8a8a8a"/><stop offset="0.4576" stop-color="#868686"/><stop offset="0.4831" stop-color="#8b8b8b"/><stop offset="0.4859" stop-color="#8d8d8d"/><stop offset="0.6673" stop-color="#8f8f8f"/><stop offset="0.6718" stop-color="#8b8b8b"/><stop offset="0.722" stop-color="#868686"/><stop offset="0.8131" stop-color="#848484"/><stop offset="0.9043" stop-color="#818181"/><stop offset="0.9772" stop-color="#808080"/><stop offset="0.9845" stop-color="#868686"/><stop offset="0.9991" stop-color="#868686"/></linearGradient>
<linearGradient id="g50" gradientUnits="userSpaceOnUse" x1="208" x2="1305"><stop offset="0" stop-color="#575757"/><stop offset="0.1568" stop-color="#575757"/><stop offset="0.2935" stop-color="#6e6e6e"/><stop offset="0.3564" stop-color="#818181"/><stop offset="0.3582" stop-color="#818181"/><stop offset="0.3756" stop-color="#868686"/><stop offset="0.4029" stop-color="#909090"/><stop offset="0.4221" stop-color="#959595"/><stop offset="0.4503" stop-color="#8b8b8b"/><stop offset="0.4576" stop-color="#878787"/><stop offset="0.4831" stop-color="#8b8b8b"/><stop offset="0.4859" stop-color="#8d8d8d"/><stop offset="0.6673" stop-color="#8f8f8f"/><stop offset="0.6718" stop-color="#8b8b8b"/><stop offset="0.722" stop-color="#868686"/><stop offset="0.8131" stop-color="#848484"/><stop offset="0.9043" stop-color="#818181"/><stop offset="0.9772" stop-color="#808080"/><stop offset="0.9845" stop-color="#868686"/><stop offset="0.9991" stop-color="#868686"/></linearGradient>
<linearGradient id="g51" gradientUnits="userSpaceOnUse" x1="208" x2="1305"><stop offset="0" stop-color="#515151"/><stop offset="0.1568" stop-color="#515151"/><stop offset="0.2935" stop-color="#6a6a6a"/><stop offset="0.3564" stop-color="#7f7f7f"/><stop offset="0.3582" stop-color="#818181"/><stop offset="0.3756" stop-color="#868686"/><stop offset="0.4029" stop-color="#909090"/><stop offset="0.4221" stop-color="#959595"/><stop offset="0.4503" stop-color="#8b8b8b"/><stop offset="0.4576" stop-color="#878787"/><stop offset="0.4831" stop-color="#8b8b8b"/><stop offset="0.4859" stop-color="#8d8d8d"/><stop offset="0.6673" stop-color="#8f8f8f"/><stop offset="0.6718" stop-color="#8b8b8b"/><stop offset="0.722" stop-color="#868686"/><stop offset="0.8131" stop-color="#848484"/><stop offset="0.9043" stop-color="#818181"/><stop offset="0.9772" stop-color="#808080"/><stop offset="0.9845" stop-color="#868686"/><stop offset="0.9991" stop-color="#868686"/></linearGradient>
<linearGradient id="g52" gradientUnits="userSpaceOnUse" x1="208" x2="1305"><stop offset="0" stop-color="#3c3c3c"/><stop offset="0.1568" stop-color="#3c3c3c"/><stop offset="0.2935" stop-color="#5f5f5f"/><stop offset="0.3564" stop-color="#7c7c7c"/><stop offset="0.3582" stop-color="#818181"/><stop offset="0.3756" stop-color="#868686"/><stop offset="0.4029" stop-color="#909090"/><stop offset="0.4221" stop-color="#959595"/><stop offset="0.4503" stop-color="#8a8a8a"/><stop offset="0.4576" stop-color="#868686"/><stop offset="0.4831" stop-color="#8b8b8b"/><stop offset="0.4859" stop-color="#8d8d8d"/><stop offset="0.6673" stop-color="#8f8f8f"/><stop offset="0.6718" stop-color="#8b8b8b"/><stop offset="0.722" stop-color="#868686"/><stop offset="0.8131" stop-color="#848484"/><stop offset="0.9043" stop-color="#818181"/><stop offset="0.9772" stop-color="#808080"/><stop offset="0.9845" stop-color="#868686"/><stop offset="0.9991" stop-color="#868686"/></linearGradient>
<linearGradient id="g53" gradientUnits="userSpaceOnUse" x1="208" x2="1305"><stop offset="0" stop-color="#2c2c2c"/><stop offset="0.175" stop-color="#2c2c2c"/><stop offset="0.2935" stop-color="#515151"/><stop offset="0.3564" stop-color="#777777"/><stop offset="0.3582" stop-color="#818181"/><stop offset="0.3756" stop-color="#868686"/><stop offset="0.4029" stop-color="#909090"/><stop offset="0.4221" stop-color="#959595"/><stop offset="0.4503" stop-color="#898989"/><stop offset="0.4576" stop-color="#868686"/><stop offset="0.4831" stop-color="#8b8b8b"/><stop offset="0.4859" stop-color="#8d8d8d"/><stop offset="0.6673" stop-color="#8f8f8f"/><stop offset="0.6718" stop-color="#8b8b8b"/><stop offset="0.722" stop-color="#868686"/><stop offset="0.8131" stop-color="#848484"/><stop offset="0.9043" stop-color="#818181"/><stop offset="0.9772" stop-color="#808080"/><stop offset="0.9845" stop-color="#868686"/><stop offset="0.9991" stop-color="#868686"/></linearGradient>
<linearGradient id="g54" gradientUnits="userSpaceOnUse" x1="208" x2="1305"><stop offset="0" stop-color="#323232"/><stop offset="0.175" stop-color="#323232"/><stop offset="0.2935" stop-color="#555555"/><stop offset="0.3564" stop-color="#787878"/><stop offset="0.3582" stop-color="#818181"/><stop offset="0.3756" stop-color="#868686"/><stop offset="0.4029" stop-color="#909090"/><stop offset="0.4221" stop-color="#959595"/><stop offset="0.4503" stop-color="#888888"/><stop offset="0.4576" stop-color="#868686"/><stop offset="0.4831" stop-color="#8b8b8b"/><stop offset="0.4859" stop-color="#8d8d8d"/><stop offset="0.6673" stop-color="#8f8f8f"/><stop offset="0.6718" stop-color="#8b8b8b"/><stop offset="0.722" stop-color="#868686"/><stop offset="0.8131" stop-color="#848484"/><stop offset="0.9043" stop-color="#818181"/><stop offset="0.9772" stop-color="#808080"/><stop offset="0.9845" stop-color="#868686"/><stop offset="0.9991" stop-color="#868686"/></linearGradient>
<linearGradient id="g55" gradientUnits="userSpaceOnUse" x1="208" x2="1305"><stop offset="0" stop-color="#434343"/><stop offset="0.175" stop-color="#434343"/><stop offset="0.2935" stop-color="#5f5f5f"/><stop offset="0.3564" stop-color="#7b7b7b"/><stop offset="0.3582" stop-color="#818181"/><stop offset="0.3756" stop-color="#868686"/><stop offset="0.4029" stop-color="#909090"/><stop offset="0.4221" stop-color="#959595"/><stop offset="0.4503" stop-color="#888888"/><stop offset="0.4576" stop-color="#868686"/><stop offset="0.4831" stop-color="#8b8b8b"/><stop offset="0.4859" stop-color="#8d8d8d"/><stop offset="0.6673" stop-color="#8f8f8f"/><stop offset="0.6718" stop-color="#8b8b8b"/><stop offset="0.722" stop-color="#868686"/><stop offset="0.8131" stop-color="#848484"/><stop offset="0.9043" stop-color="#818181"/><stop offset="0.9772" stop-color="#808080"/><stop offset="0.9845" stop-color="#868686"/><stop offset="0.9991" stop-color="#868686"/></linearGradient>
<linearGradient id="g56" gradientUnits="userSpaceOnUse" x1="208" x2="1305"><stop offset="0" stop-color="#464646"/><stop offset="0.175" stop-color="#464646"/><stop offset="0.2935" stop-color="#616161"/><stop offset="0.3564" stop-color="#7c7c7c"/><stop offset="0.3582" stop-color="#818181"/><stop offset="0.3756" stop-color="#868686"/><stop offset="0.4029" stop-color="#909090"/><stop offset="0.4221" stop-color="#959595"/><stop offset="0.4503" stop-color="#898989"/><stop offset="0.4576" stop-color="#868686"/><stop offset="0.4831" stop-color="#8b8b8b"/><stop offset="0.4859" stop-color="#8d8d8d"/><stop offset="0.6673" stop-color="#8f8f8f"/><stop offset="0.6718" stop-color="#8b8b8b"/><stop offset="0.722" stop-color="#868686"/><stop offset="0.8131" stop-color="#848484"/><stop offset="0.9043" stop-color="#818181"/><stop offset="0.9772" stop-color="#808080"/><stop offset="0.9845" stop-color="#868686"/><stop offset="0.9991" stop-color="#868686"/></linearGradient>
<linearGradient id="g57" gradientUnits="userSpaceOnUse" x1="208" x2="1305"><stop offset="0" stop-color="#363636"/><stop offset="0.175" stop-color="#363636"/><stop offset="0.2935" stop-color="#575757"/><stop offset="0.3564" stop-color="#797979"/><stop offset="0.3582" stop-color="#818181"/><stop offset="0.3756" stop-color="#868686"/><stop offset="0.4029" stop-color="#909090"/><stop offset="0.4221" stop-color="#959595"/><stop offset="0.4503" stop-color="#898989"/><stop offset="0.4576" stop-color="#868686"/><stop offset="0.4831" stop-color="#8b8b8b"/><stop offset="0.4859" stop-color="#8d8d8d"/><stop offset="0.6673" stop-color="#8f8f8f"/><stop offset="0.6718" stop-color="#8b8b8b"/><stop offset="0.722" stop-color="#878787"/><stop offset="0.7584" stop-color="#8f8f8f"/><stop offset="0.8131" stop-color="#8d8d8d"/><stop offset="0.8359" stop-color="#848484"/><stop offset="0.9043" stop-color="#818181"/><stop offset="0.9772" stop-color="#808080"/><stop offset="0.9845" stop-color="#868686"/><stop offset="0.9991" stop-color="#868686"/></linearGradient>
<linearGradient id="g58" gradientUnits="userSpaceOnUse" x1="208" x2="1305"><stop offset="0" stop-color="#141414"/><stop offset="0.2024" stop-color="#141414"/><stop offset="0.2479" stop-color="#202020"/><stop offset="0.2935" stop-color="#303030"/><stop offset="0.3209" stop-color="#494949"/><stop offset="0.3564" stop-color="#6d6d6d"/><stop offset="0.3582" stop-color="#818181"/><stop offset="0.3756" stop-color="#868686"/><stop offset="0.4029" stop-color="#909090"/><stop offset="0.4221" stop-color="#959595"/><stop offset="0.4503" stop-color="#838383"/><stop offset="0.4576" stop-color="#838383"/><stop offset="0.4831" stop-color="#8b8b8b"/><stop offset="0.4859" stop-color="#8d8d8d"/><stop offset="0.6673" stop-color="#8f8f8f"/><stop offset="0.6718" stop-color="#8b8b8b"/><stop offset="0.722" stop-color="#878787"/><stop offset="0.7584" stop-color="#8f8f8f"/><stop offset="0.8131" stop-color="#8d8d8d"/><stop offset="0.8359" stop-color="#848484"/><stop offset="0.9043" stop-color="#818181"/><stop offset="0.9772" stop-color="#808080"/><stop offset="0.9845" stop-color="#868686"/><stop offset="0.9991" stop-color="#868686"/></linearGradient>
<linearGradient id="g59" gradientUnits="userSpaceOnUse" x1="208" x2="1305"><stop offset="0" stop-color="#0d0d0d"/><stop offset="0.2024" stop-color="#0d0d0d"/><stop offset="0.2479" stop-color="#1a1a1a"/><stop offset="0.2935" stop-color="#292929"/><stop offset="0.3209" stop-color="#3d3d3d"/><stop offset="0.3564" stop-color="#585858"/><stop offset="0.3582" stop-color="#818181"/><stop offset="0.3756" stop-color="#868686"/><stop offset="0.4029" stop-color="#909090"/><stop offset="0.4221" stop-color="#959595"/><stop offset="0.4503" stop-color="#808080"/><stop offset="0.4576" stop-color="#818181"/><stop offset="0.4831" stop-color="#8b8b8b"/><stop offset="0.4859" stop-color="#8d8d8d"/><stop offset="0.6673" stop-color="#8f8f8f"/><stop offset="0.6718" stop-color="#8b8b8b"/><stop offset="0.722" stop-color="#878787"/><stop offset="0.7584" stop-color="#8f8f8f"/><stop offset="0.8131" stop-color="#8d8d8d"/><stop offset="0.8359" stop-color="#848484"/><stop offset="0.9043" stop-color="#818181"/><stop offset="0.9772" stop-color="#808080"/><stop offset="0.9845" stop-color="#868686"/><stop offset="0.9991" stop-color="#868686"/></linearGradient>
<linearGradient id="g60" gradientUnits="userSpaceOnUse" x1="208" x2="1305"><stop offset="0" stop-color="#222222"/><stop offset="0.1933" stop-color="#222222"/><stop offset="0.2844" stop-color="#404040"/><stop offset="0.3209" stop-color="#4a4a4a"/><stop offset="0.3564" stop-color="#5b5b5b"/><stop offset="0.3582" stop-color="#818181"/><stop offset="0.3756" stop-color="#868686"/><stop offset="0.4029" stop-color="#909090"/><stop offset="0.4221" stop-color="#959595"/><stop offset="0.4503" stop-color="#828282"/><stop offset="0.4576" stop-color="#828282"/><stop offset="0.4831" stop-color="#8b8b8b"/><stop offset="0.4859" stop-color="#8d8d8d"/><stop offset="0.6673" stop-color="#8f8f8f"/><stop offset="0.6718" stop-color="#8b8b8b"/><stop offset="0.722" stop-color="#878787"/><stop offset="0.7584" stop-color="#8f8f8f"/><stop offset="0.8131" stop-color="#8d8d8d"/><stop offset="0.8359" stop-color="#848484"/><stop offset="0.9043" stop-color="#818181"/><stop offset="0.9772" stop-color="#808080"/><stop offset="0.9845" stop-color="#868686"/><stop offset="0.9991" stop-color="#868686"/></linearGradient>
<linearGradient id="g61" gradientUnits="userSpaceOnUse" x1="208" x2="1305"><stop offset="0" stop-color="#393939"/><stop offset="0.1933" stop-color="#393939"/><stop offset="0.2844" stop-color="#515151"/><stop offset="0.3209" stop-color="#5e5e5e"/><stop offset="0.3564" stop-color="#727272"/><stop offset="0.3582" stop-color="#818181"/><stop offset="0.3756" stop-color="#868686"/><stop offset="0.4029" stop-color="#909090"/><stop offset="0.4221" stop-color="#959595"/><stop offset="0.4503" stop-color="#878787"/><stop offset="0.4576" stop-color="#858585"/><stop offset="0.4831" stop-color="#8b8b8b"/><stop offset="0.4859" stop-color="#8d8d8d"/><stop offset="0.6673" stop-color="#8f8f8f"/><stop offset="0.6718" stop-color="#8b8b8b"/><stop offset="0.722" stop-color="#878787"/><stop offset="0.7584" stop-color="#8f8f8f"/><stop offset="0.8131" stop-color="#8d8d8d"/><stop offset="0.8359" stop-color="#848484"/><stop offset="0.9043" stop-color="#818181"/><stop offset="0.9772" stop-color="#808080"/><stop offset="0.9845" stop-color="#868686"/><stop offset="0.9991" stop-color="#868686"/></linearGradient>
<linearGradient id="g68" gradientUnits="userSpaceOnUse" x1="208" x2="1305"><stop offset="0" stop-color="#8d8d8d"/><stop offset="0.08387" stop-color="#8b8b8b"/><stop offset="0.175" stop-color="#8a8a8a"/><stop offset="0.2662" stop-color="#888888"/><stop offset="0.3573" stop-color="#878787"/><stop offset="0.3938" stop-color="#878787"/><stop offset="0.4303" stop-color="#868686"/><stop offset="0.4485" stop-color="#858585"/><stop offset="0.4667" stop-color="#858585"/><stop offset="0.5397" stop-color="#828282"/><stop offset="0.6308" stop-color="#7f7f7f"/><stop offset="0.6764" stop-color="#7e7e7e"/><stop offset="0.722" stop-color="#7c7c7c"/><stop offset="0.8131" stop-color="#7c7c7c"/><stop offset="0.9043" stop-color="#7b7b7b"/><stop offset="0.9316" stop-color="#7b7b7b"/><stop offset="0.9991" stop-color="#7a7a7a"/></linearGradient>
<linearGradient id="g69" gradientUnits="userSpaceOnUse" x1="208" x2="1305"><stop offset="0" stop-color="#888888"/><stop offset="0.08387" stop-color="#878787"/><stop offset="0.175" stop-color="#858585"/><stop offset="0.2662" stop-color="#848484"/><stop offset="0.3573" stop-color="#828282"/><stop offset="0.3938" stop-color="#828282"/><stop offset="0.4303" stop-color="#818181"/><stop offset="0.4485" stop-color="#818181"/><stop offset="0.4667" stop-color="#808080"/><stop offset="0.5397" stop-color="#7e7e7e"/><stop offset="0.6308" stop-color="#7c7c7c"/><stop offset="0.6764" stop-color="#7a7a7a"/><stop offset="0.722" stop-color="#797979"/><stop offset="0.8131" stop-color="#787878"/><stop offset="0.9043" stop-color="#787878"/><stop offset="0.9316" stop-color="#787878"/><stop offset="0.9991" stop-color="#777777"/></linearGradient>
<linearGradient id="g70" gradientUnits="userSpaceOnUse" x1="208" x2="1305"><stop offset="0" stop-color="#868686"/><stop offset="0.08387" stop-color="#858585"/><stop offset="0.175" stop-color="#848484"/><stop offset="0.2662" stop-color="#838383"/><stop offset="0.3573" stop-color="#828282"/><stop offset="0.3938" stop-color="#818181"/><stop offset="0.4303" stop-color="#818181"/><stop offset="0.4485" stop-color="#818181"/><stop offset="0.4667" stop-color="#808080"/><stop offset="0.5397" stop-color="#7e7e7e"/><stop offset="0.6308" stop-color="#7b7b7b"/><stop offset="0.6764" stop-color="#7a7a7a"/><stop offset="0.722" stop-color="#797979"/><stop offset="0.8131" stop-color="#787878"/><stop offset="0.9043" stop-color="#787878"/><stop offset="0.9316" stop-color="#787878"/><stop offset="0.9991" stop-color="#777777"/></linearGradient>
<linearGradient id="g71" gradientUnits="userSpaceOnUse" x1="208" x2="1305"><stop offset="0" stop-color="#8b8b8b"/><stop offset="0.08387" stop-color="#898989"/><stop offset="0.175" stop-color="#878787"/><stop offset="0.2662" stop-color="#858585"/><stop offset="0.3573" stop-color="#848484"/><stop offset="0.3938" stop-color="#838383"/><stop offset="0.4303" stop-color="#828282"/><stop offset="0.4485" stop-color="#828282"/><stop offset="0.4667" stop-color="#818181"/><stop offset="0.5397" stop-color="#7f7f7f"/><stop offset="0.6308" stop-color="#7c7c7c"/><stop offset="0.6764" stop-color="#7a7a7a"/><stop offset="0.722" stop-color="#797979"/><stop offset="0.8131" stop-color="#787878"/><stop offset="0.9043" stop-color="#787878"/><stop offset="0.9316" stop-color="#787878"/><stop offset="0.9991" stop-color="#777777"/></linearGradient>
<linearGradient id="g72" gradientUnits="userSpaceOnUse" x1="208" x2="1305"><stop offset="0" stop-color="#8f8f8f"/><stop offset="0.08387" stop-color="#8c8c8c"/><stop offset="0.175" stop-color="#898989"/><stop offset="0.2662" stop-color="#878787"/><stop offset="0.3573" stop-color="#858585"/><stop offset="0.3938" stop-color="#848484"/><stop offset="0.4303" stop-color="#838383"/><stop offset="0.4485" stop-color="#828282"/><stop offset="0.4667" stop-color="#828282"/><stop offset="0.5397" stop-color="#7f7f7f"/><stop offset="0.6308" stop-color="#7c7c7c"/><stop offset="0.6764" stop-color="#7b7b7b"/><stop offset="0.722" stop-color="#797979"/><stop offset="0.8131" stop-color="#787878"/><stop offset="0.9043" stop-color="#787878"/><stop offset="0.9316" stop-color="#787878"/><stop offset="0.9991" stop-color="#777777"/></linearGradient>
<linearGradient id="g73" gradientUnits="userSpaceOnUse" x1="208" x2="1305"><stop offset="0" stop-color="#909090"/><stop offset="0.08387" stop-color="#8d8d8d"/><stop offset="0.175" stop-color="#8a8a8a"/><stop offset="0.2662" stop-color="#878787"/><stop offset="0.3573" stop-color="#858585"/><stop offset="0.3938" stop-color="#848484"/><stop offset="0.4303" stop-color="#838383"/><stop offset="0.4485" stop-color="#838383"/><stop offset="0.4667" stop-color="#828282"/><stop offset="0.5397" stop-color="#7f7f7f"/><stop offset="0.6308" stop-color="#7c7c7c"/><stop offset="0.6764" stop-color="#7b7b7b"/><stop offset="0.722" stop-color="#797979"/><stop offset="0.8131" stop-color="#797979"/><stop offset="0.9043" stop-color="#787878"/><stop offset="0.9316" stop-color="#787878"/><stop offset="0.9991" stop-color="#777777"/></linearGradient>
<linearGradient id="g74" gradientUnits="userSpaceOnUse" x1="208" x2="1305"><stop offset="0" stop-color="#929292"/><stop offset="0.08387" stop-color="#8f8f8f"/><stop offset="0.175" stop-color="#8b8b8b"/><stop offset="0.2662" stop-color="#888888"/><stop offset="0.3573" stop-color="#868686"/><stop offset="0.3938" stop-color="#858585"/><stop offset="0.4303" stop-color="#848484"/><stop offset="0.4485" stop-color="#838383"/><stop offset="0.4667" stop-color="#828282"/><stop offset="0.5397" stop-color="#7f7f7f"/><stop offset="0.6308" stop-color="#7c7c7c"/><stop offset="0.6764" stop-color="#7b7b7b"/><stop offset="0.722" stop-color="#797979"/><stop offset="0.8131" stop-color="#797979"/><stop offset="0.9043" stop-color="#787878"/><stop offset="0.9316" stop-color="#787878"/><stop offset="0.9991" stop-color="#777777"/></linearGradient>
<linearGradient id="g75" gradientUnits="userSpaceOnUse" x1="208" x2="1305"><stop offset="0" stop-color="#929292"/><stop offset="0.08387" stop-color="#8f8f8f"/><stop offset="0.175" stop-color="#8b8b8b"/><stop offset="0.2662" stop-color="#888888"/><stop offset="0.3573" stop-color="#868686"/><stop offset="0.3938" stop-color="#858585"/><stop offset="0.4303" stop-color="#848484"/><stop offset="0.4485" stop-color="#838383"/><stop offset="0.4667" stop-color="#828282"/><stop offset="0.5397" stop-color="#7f7f7f"/><stop offset="0.6308" stop-color="#7c7c7c"/><stop offset="0.6764" stop-color="#7b7b7b"/><stop offset="0.722" stop-color="#797979"/><stop offset="0.8131" stop-color="#797979"/><stop offset="0.9043" stop-color="#787878"/><stop offset="0.9316" stop-color="#787878"/><stop offset="0.9991" stop-color="#777777"/></linearGradient>
<linearGradient id="g76" gradientUnits="userSpaceOnUse" x1="208" x2="1305"><stop offset="0" stop-color="#929292"/><stop offset="0.08387" stop-color="#8f8f8f"/><stop offset="0.175" stop-color="#8b8b8b"/><stop offset="0.2662" stop-color="#888888"/><stop offset="0.3573" stop-color="#868686"/><stop offset="0.3938" stop-color="#858585"/><stop offset="0.4303" stop-color="#848484"/><stop offset="0.4485" stop-color="#838383"/><stop offset="0.4667" stop-color="#828282"/><stop offset="0.5397" stop-color="#7f7f7f"/><stop offset="0.6308" stop-color="#7c7c7c"/><stop offset="0.6764" stop-color="#7b7b7b"/><stop offset="0.722" stop-color="#797979"/><stop offset="0.8131" stop-color="#797979"/><stop offset="0.9043" stop-color="#787878"/><stop offset="0.9316" stop-color="#787878"/><stop offset="0.9991" stop-color="#777777"/></linearGradient>
<linearGradient id="g77" gradientUnits="userSpaceOnUse" x1="208" x2="1305"><stop offset="0" stop-color="#909090"/><stop offset="0.08387" stop-color="#8d8d8d"/><stop offset="0.175" stop-color="#8a8a8a"/><stop offset="0.2662" stop-color="#878787"/><stop offset="0.3573" stop-color="#858585"/><stop offset="0.3938" stop-color="#848484"/><stop offset="0.4303" stop-color="#838383"/><stop offset="0.4485" stop-color="#838383"/><stop offset="0.4667" stop-color="#828282"/><stop offset="0.5397" stop-color="#7f7f7f"/><stop offset="0.6308" stop-color="#7c7c7c"/><stop offset="0.6764" stop-color="#7b7b7b"/><stop offset="0.722" stop-color="#797979"/><stop offset="0.8131" stop-color="#797979"/><stop offset="0.9043" stop-color="#787878"/><stop offset="0.9316" stop-color="#787878"/><stop offset="0.9991" stop-color="#777777"/></linearGradient>
<linearGradient id="g78" gradientUnits="userSpaceOnUse" x1="208" x2="1305"><stop offset="0" stop-color="#909090"/><stop offset="0.08387" stop-color="#8d8d8d"/><stop offset="0.175" stop-color="#8a8a8a"/><stop offset="0.2662" stop-color="#878787"/><stop offset="0.3573" stop-color="#858585"/><stop offset="0.3938" stop-color="#848484"/><stop offset="0.4303" stop-color="#838383"/><stop offset="0.4485" stop-color="#838383"/><stop offset="0.4667" stop-color="#828282"/><stop offset="0.5397" stop-color="#7f7f7f"/><stop offset="0.6308" stop-color="#7c7c7c"/><stop offset="0.6764" stop-color="#7b7b7b"/><stop offset="0.722" stop-color="#797979"/><stop offset="0.8131" stop-color="#797979"/><stop offset="0.9043" stop-color="#787878"/><stop offset="0.9316" stop-color="#787878"/><stop offset="0.9991" stop-color="#777777"/></linearGradient>
<linearGradient id="g79" gradientUnits="userSpaceOnUse" x1="208" x2="1305"><stop offset="0" stop-color="#8f8f8f"/><stop offset="0.08387" stop-color="#8c8c8c"/><stop offset="0.175" stop-color="#898989"/><stop offset="0.2662" stop-color="#878787"/><stop offset="0.3573" stop-color="#858585"/><stop offset="0.3938" stop-color="#848484"/><stop offset="0.4303" stop-color="#838383"/><stop offset="0.4485" stop-color="#828282"/><stop offset="0.4667" stop-color="#828282"/><stop offset="0.5397" stop-color="#7f7f7f"/><stop offset="0.6308" stop-color="#7c7c7c"/><stop offset="0.6764" stop-color="#7b7b7b"/><stop offset="0.722" stop-color="#797979"/><stop offset="0.8131" stop-color="#787878"/><stop offset="0.9043" stop-color="#787878"/><stop offset="0.9316" stop-color="#787878"/><stop offset="0.9991" stop-color="#777777"/></linearGradient>
<linearGradient id="g80" gradientUnits="userSpaceOnUse" x1="208" x2="1305"><stop offset="0" stop-color="#8d8d8d"/><stop offset="0.08387" stop-color="#8b8b8b"/><stop offset="0.175" stop-color="#888888"/><stop offset="0.2662" stop-color="#868686"/><stop offset="0.3573" stop-color="#848484"/><stop offset="0.3938" stop-color="#838383"/><stop offset="0.4303" stop-color="#828282"/><stop offset="0.4485" stop-color="#828282"/><stop offset="0.4667" stop-color="#818181"/><stop offset="0.5397" stop-color="#7f7f7f"/><stop offset="0.6308" stop-color="#7c7c7c"/><stop offset="0.6764" stop-color="#7b7b7b"/><stop offset="0.722" stop-color="#797979"/><stop offset="0.8131" stop-color="#787878"/><stop offset="0.9043" stop-color="#787878"/><stop offset="0.9316" stop-color="#787878"/><stop offset="0.9991" stop-color="#777777"/></linearGradient>
<linearGradient id="g81" gradientUnits="userSpaceOnUse" x1="208" x2="1305"><stop offset="0" stop-color="#8d8d8d"/><stop offset="0.08387" stop-color="#8b8b8b"/><stop offset="0.175" stop-color="#888888"/><stop offset="0.2662" stop-color="#868686"/><stop offset="0.3573" stop-color="#848484"/><stop offset="0.3938" stop-color="#838383"/><stop offset="0.4303" stop-color="#828282"/><stop offset="0.4485" stop-color="#828282"/><stop offset="0.4667" stop-color="#818181"/><stop offset="0.5397" stop-color="#7f7f7f"/><stop offset="0.6308" stop-color="#7c7c7c"/><stop offset="0.6764" stop-color="#7b7b7b"/><stop offset="0.722" stop-color="#797979"/><stop offset="0.8131" stop-color="#787878"/><stop offset="0.9043" stop-color="#787878"/><stop offset="0.9316" stop-color="#787878"/><stop offset="0.9991" stop-color="#777777"/></linearGradient>
<linearGradient id="g82" gradientUnits="userSpaceOnUse" x1="208" x2="1305"><stop offset="0" stop-color="#8d8d8d"/><stop offset="0.08387" stop-color="#8b8b8b"/><stop offset="0.175" stop-color="#888888"/><stop offset="0.2662" stop-color="#868686"/><stop offset="0.3573" stop-color="#848484"/><stop offset="0.3938" stop-color="#838383"/><stop offset="0.4303" stop-color="#828282"/><stop offset="0.4485" stop-color="#828282"/><stop offset="0.4667" stop-color="#818181"/><stop offset="0.5397" stop-color="#7f7f7f"/><stop offset="0.6308" stop-color="#7c7c7c"/><stop offset="0.6764" stop-color="#7b7b7b"/><stop offset="0.722" stop-color="#797979"/><stop offset="0.8131" stop-color="#787878"/><stop offset="0.9043" stop-color="#787878"/><stop offset="0.9316" stop-color="#787878"/><stop offset="0.9991" stop-color="#777777"/></linearGradient>
<linearGradient id="g83" gradientUnits="userSpaceOnUse" x1="208" x2="1305"><stop offset="0" stop-color="#8f8f8f"/><stop offset="0.08387" stop-color="#8c8c8c"/><stop offset="0.175" stop-color="#898989"/><stop offset="0.2662" stop-color="#878787"/><stop offset="0.3573" stop-color="#858585"/><stop offset="0.3938" stop-color="#848484"/><stop offset="0.4303" stop-color="#838383"/><stop offset="0.4485" stop-color="#828282"/><stop offset="0.4667" stop-color="#828282"/><stop offset="0.5397" stop-color="#7f7f7f"/><stop offset="0.6308" stop-color="#7c7c7c"/><stop offset="0.6764" stop-color="#7b7b7b"/><stop offset="0.722" stop-color="#797979"/><stop offset="0.8131" stop-color="#787878"/><stop offset="0.9043" stop-color="#787878"/><stop offset="0.9316" stop-color="#787878"/><stop offset="0.9991" stop-color="#777777"/></linearGradient>
<linearGradient id="g84" gradientUnits="userSpaceOnUse" x1="208" x2="1305"><stop offset="0" stop-color="#8f8f8f"/><stop offset="0.08387" stop-color="#8c8c8c"/><stop offset="0.175" stop-color="#898989"/><stop offset="0.2662" stop-color="#878787"/><stop offset="0.3573" stop-color="#858585"/><stop offset="0.3938" stop-color="#848484"/><stop offset="0.4303" stop-color="#838383"/><stop offset="0.4485" stop-color="#828282"/><stop offset="0.4667" stop-color="#828282"/><stop offset="0.5397" stop-color="#7f7f7f"/><stop offset="0.6308" stop-color="#7c7c7c"/><stop offset="0.6764" stop-color="#7b7b7b"/><stop offset="0.722" stop-color="#797979"/><stop offset="0.8131" stop-color="#787878"/><stop offset="0.9043" stop-color="#787878"/><stop offset="0.9316" stop-color="#787878"/><stop offset="0.9991" stop-color="#777777"/></linearGradient>
<linearGradient id="g85" gradientUnits="userSpaceOnUse" x1="208" x2="1305"><stop offset="0" stop-color="#8d8d8d"/><stop offset="0.08387" stop-color="#8b8b8b"/><stop offset="0.175" stop-color="#888888"/><stop offset="0.2662" stop-color="#868686"/><stop offset="0.3573" stop-color="#848484"/><stop offset="0.3938" stop-color="#838383"/><stop offset="0.4303" stop-color="#828282"/><stop offset="0.4485" stop-color="#828282"/><stop offset="0.4667" stop-color="#818181"/><stop offset="0.5397" stop-color="#7f7f7f"/><stop offset="0.6308" stop-color="#7c7c7c"/><stop offset="0.6764" stop-color="#7b7b7b"/><stop offset="0.722" stop-color="#797979"/><stop offset="0.8131" stop-color="#787878"/><stop offset="0.9043" stop-color="#787878"/><stop offset="0.9316" stop-color="#787878"/><stop offset="0.9991" stop-color="#777777"/></linearGradient>
<linearGradient id="g86" gradientUnits="userSpaceOnUse" x1="208" x2="1305"><stop offset="0" stop-color="#8d8d8d"/><stop offset="0.08387" stop-color="#8b8b8b"/><stop offset="0.175" stop-color="#888888"/><stop offset="0.2662" stop-color="#868686"/><stop offset="0.3573" stop-color="#848484"/><stop offset="0.3938" stop-color="#838383"/><stop offset="0.4303" stop-color="#828282"/><stop offset="0.4485" stop-color="#828282"/><stop offset="0.4667" stop-color="#818181"/><stop offset="0.5397" stop-color="#7f7f7f"/><stop offset="0.6308" stop-color="#7c7c7c"/><stop offset="0.6764" stop-color="#7b7b7b"/><stop offset="0.722" stop-color="#797979"/><stop offset="0.8131" stop-color="#787878"/><stop offset="0.9043" stop-color="#787878"/><stop offset="0.9316" stop-color="#787878"/><stop offset="0.9991" stop-color="#777777"/></linearGradient>
<linearGradient id="g87" gradientUnits="userSpaceOnUse" x1="208" x2="1305"><stop offset="0" stop-color="#8d8d8d"/><stop offset="0.08387" stop-color="#8b8b8b"/><stop offset="0.175" stop-color="#888888"/><stop offset="0.2662" stop-color="#868686"/><stop offset="0.3573" stop-color="#848484"/><stop offset="0.3938" stop-color="#838383"/><stop offset="0.4303" stop-color="#828282"/><stop offset="0.4485" stop-color="#828282"/><stop offset="0.4667" stop-color="#818181"/><stop offset="0.5397" stop-color="#7f7f7f"/><stop offset="0.6308" stop-color="#7c7c7c"/><stop offset="0.6764" stop-color="#7b7b7b"/><stop offset="0.722" stop-color="#797979"/><stop offset="0.8131" stop-color="#787878"/><stop offset="0.9043" stop-color="#787878"/><stop offset="0.9316" stop-color="#787878"/><stop offset="0.9991" stop-color="#777777"/></linearGradient>
<linearGradient id="g88" gradientUnits="userSpaceOnUse" x1="208" x2="1305"><stop offset="0" stop-color="#8b8b8b"/><stop offset="0.08387" stop-color="#898989"/><stop offset="0.175" stop-color="#878787"/><stop offset="0.2662" stop-color="#858585"/><stop offset="0.3573" stop-color="#848484"/><stop offset="0.3938" stop-color="#838383"/><stop offset="0.4303" stop-color="#828282"/><stop offset="0.4485" stop-color="#828282"/><stop offset="0.4667" stop-color="#818181"/><stop offset="0.5397" stop-color="#7f7f7f"/><stop offset="0.6308" stop-color="#7c7c7c"/><stop offset="0.6764" stop-color="#7a7a7a"/><stop offset="0.722" stop-color="#797979"/><stop offset="0.8131" stop-color="#787878"/><stop offset="0.9043" stop-color="#787878"/><stop offset="0.9316" stop-color="#787878"/><stop offset="0.9991" stop-color="#777777"/></linearGradient>
<linearGradient id="g89" gradientUnits="userSpaceOnUse" x1="208" x2="1305"><stop offset="0" stop-color="#8b8b8b"/><stop offset="0.08387" stop-color="#898989"/><stop offset="0.175" stop-color="#878787"/><stop offset="0.2662" stop-color="#858585"/><stop offset="0.3573" stop-color="#848484"/><stop offset="0.3938" stop-color="#838383"/><stop offset="0.4303" stop-color="#828282"/><stop offset="0.4485" stop-color="#828282"/><stop offset="0.4667" stop-color="#818181"/><stop offset="0.5397" stop-color="#7f7f7f"/><stop offset="0.6308" stop-color="#7c7c7c"/><stop offset="0.6764" stop-color="#7a7a7a"/><stop offset="0.722" stop-color="#797979"/><stop offset="0.8131" stop-color="#787878"/><stop offset="0.9043" stop-color="#787878"/><stop offset="0.9316" stop-color="#787878"/><stop offset="0.9991" stop-color="#777777"/></linearGradient>
<linearGradient id="g90" gradientUnits="userSpaceOnUse" x1="208" x2="1305"><stop offset="0" stop-color="#8a8a8a"/><stop offset="0.08387" stop-color="#888888"/><stop offset="0.175" stop-color="#868686"/><stop offset="0.2662" stop-color="#848484"/><stop offset="0.3573" stop-color="#838383"/><stop offset="0.3938" stop-color="#828282"/><stop offset="0.4303" stop-color="#828282"/><stop offset="0.4485" stop-color="#818181"/><stop offset="0.4667" stop-color="#818181"/><stop offset="0.5397" stop-color="#7e7e7e"/><stop offset="0.6308" stop-color="#7c7c7c"/><stop offset="0.6764" stop-color="#7a7a7a"/><stop offset="0.722" stop-color="#797979"/><stop offset="0.8131" stop-color="#787878"/><stop offset="0.9043" stop-color="#787878"/><stop offset="0.9316" stop-color="#787878"/><stop offset="0.9991" stop-color="#777777"/></linearGradient>
<linearGradient id="g91" gradientUnits="userSpaceOnUse" x1="208" x2="1305"><stop offset="0" stop-color="#858585"/><stop offset="0.08387" stop-color="#848484"/><stop offset="0.175" stop-color="#838383"/><stop offset="0.2662" stop-color="#828282"/><stop offset="0.3573" stop-color="#818181"/><stop offset="0.3938" stop-color="#818181"/><stop offset="0.4303" stop-color="#808080"/><stop offset="0.4485" stop-color="#808080"/><stop offset="0.4667" stop-color="#808080"/><stop offset="0.5397" stop-color="#7e7e7e"/><stop offset="0.6308" stop-color="#7b7b7b"/><stop offset="0.6764" stop-color="#7a7a7a"/><stop offset="0.722" stop-color="#797979"/><stop offset="0.8131" stop-color="#787878"/><stop offset="0.9043" stop-color="#787878"/><stop offset="0.9316" stop-color="#787878"/><stop offset="0.9991" stop-color="#777777"/></linearGradient>
<linearGradient id="g92" gradientUnits="userSpaceOnUse" x1="208" x2="1305"><stop offset="0" stop-color="#888888"/><stop offset="0.08387" stop-color="#878787"/><stop offset="0.175" stop-color="#858585"/><stop offset="0.2662" stop-color="#848484"/><stop offset="0.3573" stop-color="#828282"/><stop offset="0.3938" stop-color="#828282"/><stop offset="0.4303" stop-color="#818181"/><stop offset="0.4485" stop-color="#818181"/><stop offset="0.4667" stop-color="#808080"/><stop offset="0.5397" stop-color="#7e7e7e"/><stop offset="0.6308" stop-color="#7c7c7c"/><stop offset="0.6764" stop-color="#7a7a7a"/><stop offset="0.722" stop-color="#797979"/><stop offset="0.8131" stop-color="#787878"/><stop offset="0.9043" stop-color="#787878"/><stop offset="0.9316" stop-color="#787878"/><stop offset="0.9991" stop-color="#777777"/></linearGradient>
<linearGradient id="g93" gradientUnits="userSpaceOnUse" x1="208" x2="1305"><stop offset="0" stop-color="#8b8b8b"/><stop offset="0.08387" stop-color="#898989"/><stop offset="0.175" stop-color="#878787"/><stop offset="0.2662" stop-color="#858585"/><stop offset="0.3573" stop-color="#848484"/><stop offset="0.3938" stop-color="#838383"/><stop offset="0.4303" stop-color="#828282"/><stop offset="0.4485" stop-color="#828282"/><stop offset="0.4667" stop-color="#818181"/><stop offset="0.5397" stop-color="#7f7f7f"/><stop offset="0.6308" stop-color="#7c7c7c"/><stop offset="0.6764" stop-color="#7a7a7a"/><stop offset="0.722" stop-color="#797979"/><stop offset="0.8131" stop-color="#787878"/><stop offset="0.9043" stop-color="#787878"/><stop offset="0.9316" stop-color="#787878"/><stop offset="0.9991" stop-color="#777777"/></linearGradient>
<linearGradient id="g94" gradientUnits="userSpaceOnUse" x1="208" x2="1305"><stop offset="0" stop-color="#909090"/><stop offset="0.08387" stop-color="#8d8d8d"/><stop offset="0.175" stop-color="#8a8a8a"/><stop offset="0.2662" stop-color="#878787"/><stop offset="0.3573" stop-color="#858585"/><stop offset="0.3938" stop-color="#848484"/><stop offset="0.4303" stop-color="#838383"/><stop offset="0.4485" stop-color="#838383"/><stop offset="0.4667" stop-color="#828282"/><stop offset="0.5397" stop-color="#7f7f7f"/><stop offset="0.6308" stop-color="#7c7c7c"/><stop offset="0.6764" stop-color="#7b7b7b"/><stop offset="0.722" stop-color="#797979"/><stop offset="0.8131" stop-color="#797979"/><stop offset="0.9043" stop-color="#787878"/><stop offset="0.9316" stop-color="#787878"/><stop offset="0.9991" stop-color="#777777"/></linearGradient>
<linearGradient id="g95" gradientUnits="userSpaceOnUse" x1="208" x2="1305"><stop offset="0" stop-color="#999999"/><stop offset="0.08387" stop-color="#989898"/><stop offset="0.175" stop-color="#959595"/><stop offset="0.2662" stop-color="#939393"/><stop offset="0.3573" stop-color="#8e8e8e"/><stop offset="0.3938" stop-color="#8b8b8b"/><stop offset="0.4303" stop-color="#878787"/><stop offset="0.4485" stop-color="#868686"/><stop offset="0.4667" stop-color="#848484"/><stop offset="0.5397" stop-color="#808080"/><stop offset="0.6308" stop-color="#7d7d7d"/><stop offset="0.6764" stop-color="#7b7b7b"/><stop offset="0.722" stop-color="#797979"/><stop offset="0.8131" stop-color="#797979"/><stop offset="0.9043" stop-color="#787878"/><stop offset="0.9316" stop-color="#787878"/><stop offset="0.9991" stop-color="#777777"/></linearGradient>
<linearGradient id="g96" gradientUnits="userSpaceOnUse" x1="208" x2="1305"><stop offset="0" stop-color="#9a9a9a"/><stop offset="0.08387" stop-color="#999999"/><stop offset="0.175" stop-color="#969696"/><stop offset="0.2662" stop-color="#949494"/><stop offset="0.3573" stop-color="#8e8e8e"/><stop offset="0.3938" stop-color="#8b8b8b"/><stop offset="0.4303" stop-color="#888888"/><stop offset="0.4485" stop-color="#868686"/><stop offset="0.4667" stop-color="#848484"/><stop offset="0.5397" stop-color="#818181"/><stop offset="0.6308" stop-color="#7d7d7d"/><stop offset="0.6764" stop-color="#7b7b7b"/><stop offset="0.722" stop-color="#797979"/><stop offset="0.8131" stop-color="#797979"/><stop offset="0.9043" stop-color="#787878"/><stop offset="0.9316" stop-color="#787878"/><stop offset="0.9991" stop-color="#777777"/></linearGradient>
<linearGradient id="g97" gradientUnits="userSpaceOnUse" x1="208" x2="1305"><stop offset="0" stop-color="#868686"/><stop offset="0.08387" stop-color="#858585"/><stop offset="0.175" stop-color="#848484"/><stop offset="0.2662" stop-color="#838383"/><stop offset="0.3573" stop-color="#828282"/><stop offset="0.3938" stop-color="#818181"/><stop offset="0.4303" stop-color="#818181"/><stop offset="0.4485" stop-color="#818181"/><stop offset="0.4667" stop-color="#808080"/><stop offset="0.5397" stop-color="#7e7e7e"/><stop offset="0.6308" stop-color="#7b7b7b"/><stop offset="0.6764" stop-color="#7a7a7a"/><stop offset="0.722" stop-color="#797979"/><stop offset="0.8131" stop-color="#787878"/><stop offset="0.9043" stop-color="#787878"/><stop offset="0.9316" stop-color="#787878"/><stop offset="0.9991" stop-color="#777777"/></linearGradient>
<linearGradient id="g98" gradientUnits="userSpaceOnUse" x1="208" x2="1305"><stop offset="0" stop-color="#7c7c7c"/><stop offset="0.08387" stop-color="#7d7d7d"/><stop offset="0.175" stop-color="#7e7e7e"/><stop offset="0.2662" stop-color="#7e7e7e"/><stop offset="0.3573" stop-color="#7f7f7f"/><stop offset="0.3938" stop-color="#878787"/><stop offset="0.4303" stop-color="#8f8f8f"/><stop offset="0.4485" stop-color="#8f8f8f"/><stop offset="0.4667" stop-color="#8f8f8f"/><stop offset="0.5397" stop-color="#8d8d8d"/><stop offset="0.6308" stop-color="#8b8b8b"/><stop offset="0.6764" stop-color="#848484"/><stop offset="0.722" stop-color="#7e7e7e"/><stop offset="0.8131" stop-color="#7b7b7b"/><stop offset="0.9043" stop-color="#797979"/><stop offset="0.9316" stop-color="#797979"/><stop offset="0.9991" stop-color="#777777"/></linearGradient>
<linearGradient id="g99" gradientUnits="userSpaceOnUse" x1="208" x2="1305"><stop offset="0" stop-color="#7d7d7d"/><stop offset="0.08387" stop-color="#7e7e7e"/><stop offset="0.175" stop-color="#7f7f7f"/><stop offset="0.2662" stop-color="#7f7f7f"/><stop offset="0.3573" stop-color="#7f7f7f"/><stop offset="0.3938" stop-color="#878787"/><stop offset="0.4303" stop-color="#909090"/><stop offset="0.4485" stop-color="#8f8f8f"/><stop offset="0.4667" stop-color="#8f8f8f"/><stop offset="0.5397" stop-color="#8e8e8e"/><stop offset="0.6308" stop-color="#8b8b8b"/><stop offset="0.6764" stop-color="#858585"/><stop offset="0.722" stop-color="#7e7e7e"/><stop offset="0.8131" stop-color="#7c7c7c"/><stop offset="0.9043" stop-color="#797979"/><stop offset="0.9316" stop-color="#797979"/><stop offset="0.9991" stop-color="#777777"/></linearGradient>
<linearGradient id="g100" gradientUnits="userSpaceOnUse" x1="208" x2="1305"><stop offset="0" stop-color="#868686"/><stop offset="0.08387" stop-color="#858585"/><stop offset="0.175" stop-color="#848484"/><stop offset="0.2662" stop-color="#838383"/><stop offset="0.3573" stop-color="#828282"/><stop offset="0.3938" stop-color="#818181"/><stop offset="0.4303" stop-color="#818181"/><stop offset="0.4485" stop-color="#818181"/><stop offset="0.4667" stop-color="#808080"/><stop offset="0.5397" stop-color="#7e7e7e"/><stop offset="0.6308" stop-color="#7b7b7b"/><stop offset="0.6764" stop-color="#7a7a7a"/><stop offset="0.722" stop-color="#797979"/><stop offset="0.8131" stop-color="#787878"/><stop offset="0.9043" stop-color="#787878"/><stop offset="0.9316" stop-color="#787878"/><stop offset="0.9991" stop-color="#777777"/></linearGradient>
<linearGradient id="g101" gradientUnits="userSpaceOnUse" x1="208" x2="1305"><stop offset="0" stop-color="#909090"/><stop offset="0.08387" stop-color="#8d8d8d"/><stop offset="0.175" stop-color="#8a8a8a"/><stop offset="0.2662" stop-color="#878787"/><stop offset="0.3573" stop-color="#858585"/><stop offset="0.3938" stop-color="#848484"/><stop offset="0.4303" stop-color="#838383"/><stop offset="0.4485" stop-color="#838383"/><stop offset="0.4667" stop-color="#828282"/><stop offset="0.5397" stop-color="#7f7f7f"/><stop offset="0.6308" stop-color="#7c7c7c"/><stop offset="0.6764" stop-color="#7b7b7b"/><stop offset="0.722" stop-color="#797979"/><stop offset="0.8131" stop-color="#797979"/><stop offset="0.9043" stop-color="#787878"/><stop offset="0.9316" stop-color="#787878"/><stop offset="0.9991" stop-color="#777777"/></linearGradient>
<linearGradient id="g102" gradientUnits="userSpaceOnUse" x1="208" x2="1305"><stop offset="0" stop-color="#929292"/><stop offset="0.08387" stop-color="#8f8f8f"/><stop offset="0.175" stop-color="#8b8b8b"/><stop offset="0.2662" stop-color="#888888"/><stop offset="0.3573" stop-color="#868686"/><stop offset="0.3938" stop-color="#858585"/><stop offset="0.4303" stop-color="#848484"/><stop offset="0.4485" stop-color="#838383"/><stop offset="0.4667" stop-color="#828282"/><stop offset="0.5397" stop-color="#7f7f7f"/><stop offset="0.6308" stop-color="#7c7c7c"/><stop offset="0.6764" stop-color="#7b7b7b"/><stop offset="0.722" stop-color="#797979"/><stop offset="0.8131" stop-color="#797979"/><stop offset="0.9043" stop-color="#787878"/><stop offset="0.9316" stop-color="#787878"/><stop offset="0.9991" stop-color="#777777"/></linearGradient>
<linearGradient id="g103" gradientUnits="userSpaceOnUse" x1="208" x2="1305"><stop offset="0" stop-color="#929292"/><stop offset="0.08387" stop-color="#8f8f8f"/><stop offset="0.175" stop-color="#8b8b8b"/><stop offset="0.2662" stop-color="#888888"/><stop offset="0.3573" stop-color="#868686"/><stop offset="0.3938" stop-color="#858585"/><stop offset="0.4303" stop-color="#848484"/><stop offset="0.4485" stop-color="#838383"/><stop offset="0.4667" stop-color="#828282"/><stop offset="0.5397" stop-color="#7f7f7f"/><stop offset="0.6308" stop-color="#7c7c7c"/><stop offset="0.6764" stop-color="#7b7b7b"/><stop offset="0.722" stop-color="#797979"/><stop offset="0.8131" stop-color="#797979"/><stop offset="0.9043" stop-color="#787878"/><stop offset="0.9316" stop-color="#787878"/><stop offset="0.9991" stop-color="#777777"/></linearGradient>
<linearGradient id="g104" gradientUnits="userSpaceOnUse" x1="208" x2="1305"><stop offset="0" stop-color="#8f8f8f"/><stop offset="0.08387" stop-color="#8c8c8c"/><stop offset="0.175" stop-color="#898989"/><stop offset="0.2662" stop-color="#878787"/><stop offset="0.3573" stop-color="#858585"/><stop offset="0.3938" stop-color="#848484"/><stop offset="0.4303" stop-color="#838383"/><stop offset="0.4485" stop-color="#828282"/><stop offset="0.4667" stop-color="#828282"/><stop offset="0.5397" stop-color="#7f7f7f"/><stop offset="0.6308" stop-color="#7c7c7c"/><stop offset="0.6764" stop-color="#7b7b7b"/><stop offset="0.722" stop-color="#797979"/><stop offset="0.8131" stop-color="#787878"/><stop offset="0.9043" stop-color="#787878"/><stop offset="0.9316" stop-color="#787878"/><stop offset="0.9991" stop-color="#777777"/></linearGradient>
<linearGradient id="g105" gradientUnits="userSpaceOnUse" x1="208" x2="1305"><stop offset="0" stop-color="#8b8b8b"/><stop offset="0.08387" stop-color="#898989"/><stop offset="0.175" stop-color="#878787"/><stop offset="0.2662" stop-color="#858585"/><stop offset="0.3573" stop-color="#848484"/><stop offset="0.3938" stop-color="#838383"/><stop offset="0.4303" stop-color="#828282"/><stop offset="0.4485" stop-color="#828282"/><stop offset="0.4667" stop-color="#818181"/><stop offset="0.5397" stop-color="#7f7f7f"/><stop offset="0.6308" stop-color="#7c7c7c"/><stop offset="0.6764" stop-color="#7a7a7a"/><stop offset="0.722" stop-color="#797979"/><stop offset="0.8131" stop-color="#787878"/><stop offset="0.9043" stop-color="#787878"/><stop offset="0.9316" stop-color="#787878"/><stop offset="0.9991" stop-color="#777777"/></linearGradient>
<linearGradient id="g106" gradientUnits="userSpaceOnUse" x1="208" x2="1305"><stop offset="0" stop-color="#8b8b8b"/><stop offset="0.08387" stop-color="#898989"/><stop offset="0.175" stop-color="#878787"/><stop offset="0.2662" stop-color="#858585"/><stop offset="0.3573" stop-color="#848484"/><stop offset="0.3938" stop-color="#838383"/><stop offset="0.4303" stop-color="#828282"/><stop offset="0.4485" stop-color="#828282"/><stop offset="0.4667" stop-color="#818181"/><stop offset="0.5397" stop-color="#7f7f7f"/><stop offset="0.6308" stop-color="#7c7c7c"/><stop offset="0.6764" stop-color="#7a7a7a"/><stop offset="0.722" stop-color="#797979"/><stop offset="0.8131" stop-color="#787878"/><stop offset="0.9043" stop-color="#787878"/><stop offset="0.9316" stop-color="#787878"/><stop offset="0.9991" stop-color="#777777"/></linearGradient>
<linearGradient id="g107" gradientUnits="userSpaceOnUse" x1="208" x2="1305"><stop offset="0" stop-color="#8b8b8b"/><stop offset="0.08387" stop-color="#898989"/><stop offset="0.175" stop-color="#878787"/><stop offset="0.2662" stop-color="#858585"/><stop offset="0.3573" stop-color="#848484"/><stop offset="0.3938" stop-color="#838383"/><stop offset="0.4303" stop-color="#828282"/><stop offset="0.4485" stop-color="#828282"/><stop offset="0.4667" stop-color="#818181"/><stop offset="0.5397" stop-color="#7f7f7f"/><stop offset="0.6308" stop-color="#7c7c7c"/><stop offset="0.6764" stop-color="#7a7a7a"/><stop offset="0.722" stop-color="#797979"/><stop offset="0.8131" stop-color="#787878"/><stop offset="0.9043" stop-color="#787878"/><stop offset="0.9316" stop-color="#787878"/><stop offset="0.9991" stop-color="#777777"/></linearGradient>
<linearGradient id="g108" gradientUnits="userSpaceOnUse" x1="208" x2="1305"><stop offset="0" stop-color="#888888"/><stop offset="0.08387" stop-color="#878787"/><stop offset="0.175" stop-color="#858585"/><stop offset="0.2662" stop-color="#848484"/><stop offset="0.3573" stop-color="#828282"/><stop offset="0.3938" stop-color="#828282"/><stop offset="0.4303" stop-color="#818181"/><stop offset="0.4485" stop-color="#818181"/><stop offset="0.4667" stop-color="#808080"/><stop offset="0.5397" stop-color="#7e7e7e"/><stop offset="0.6308" stop-color="#7c7c7c"/><stop offset="0.6764" stop-color="#7a7a7a"/><stop offset="0.722" stop-color="#797979"/><stop offset="0.8131" stop-color="#787878"/><stop offset="0.9043" stop-color="#787878"/><stop offset="0.9316" stop-color="#787878"/><stop offset="0.9991" stop-color="#777777"/></linearGradient>
<linearGradient id="g109" gradientUnits="userSpaceOnUse" x1="208" x2="1305"><stop offset="0" stop-color="#858585"/><stop offset="0.08387" stop-color="#848484"/><stop offset="0.175" stop-color="#838383"/><stop offset="0.2662" stop-color="#828282"/><stop offset="0.3573" stop-color="#818181"/><stop offset="0.3938" stop-color="#818181"/><stop offset="0.4303" stop-color="#808080"/><stop offset="0.4485" stop-color="#808080"/><stop offset="0.4667" stop-color="#808080"/><stop offset="0.5397" stop-color="#7e7e7e"/><stop offset="0.6308" stop-color="#7b7b7b"/><stop offset="0.6764" stop-color="#7a7a7a"/><stop offset="0.722" stop-color="#797979"/><stop offset="0.8131" stop-color="#787878"/><stop offset="0.9043" stop-color="#787878"/><stop offset="0.9316" stop-color="#787878"/><stop offset="0.9991" stop-color="#777777"/></linearGradient>
<linearGradient id="g110" gradientUnits="userSpaceOnUse" x1="208" x2="1305"><stop offset="0" stop-color="#888888"/><stop offset="0.08387" stop-color="#878787"/><stop offset="0.175" stop-color="#858585"/><stop offset="0.2662" stop-color="#848484"/><stop offset="0.3573" stop-color="#828282"/><stop offset="0.3938" stop-color="#828282"/><stop offset="0.4303" stop-color="#818181"/><stop offset="0.4485" stop-color="#818181"/><stop offset="0.4667" stop-color="#808080"/><stop offset="0.5397" stop-color="#7e7e7e"/><stop offset="0.6308" stop-color="#7c7c7c"/><stop offset="0.6764" stop-color="#7a7a7a"/><stop offset="0.722" stop-color="#797979"/><stop offset="0.8131" stop-color="#787878"/><stop offset="0.9043" stop-color="#787878"/><stop offset="0.9316" stop-color="#787878"/><stop offset="0.9991" stop-color="#777777"/></linearGradient>
<linearGradient id="g111" gradientUnits="userSpaceOnUse" x1="208" x2="1305"><stop offset="0" stop-color="#8d8d8d"/><stop offset="0.08387" stop-color="#8b8b8b"/><stop offset="0.175" stop-color="#888888"/><stop offset="0.2662" stop-color="#868686"/><stop offset="0.3573" stop-color="#848484"/><stop offset="0.3938" stop-color="#838383"/><stop offset="0.4303" stop-color="#828282"/><stop offset="0.4485" stop-color="#828282"/><stop offset="0.4667" stop-color="#818181"/><stop offset="0.5397" stop-color="#7f7f7f"/><stop offset="0.6308" stop-color="#7a7a7a"/><stop offset="0.6764" stop-color="#777777"/><stop offset="0.722" stop-color="#757575"/><stop offset="0.8131" stop-color="#747474"/><stop offset="0.9043" stop-color="#747474"/><stop offset="0.9316" stop-color="#747474"/><stop offset="0.9991" stop-color="#737373"/></linearGradient>
<linearGradient id="g112" gradientUnits="userSpaceOnUse" x1="208" x2="1305"><stop offset="0" stop-color="#949494"/><stop offset="0.08387" stop-color="#909090"/><stop offset="0.175" stop-color="#8c8c8c"/><stop offset="0.2662" stop-color="#898989"/><stop offset="0.3573" stop-color="#868686"/><stop offset="0.3938" stop-color="#858585"/><stop offset="0.4303" stop-color="#848484"/><stop offset="0.4485" stop-color="#848484"/><stop offset="0.4667" stop-color="#838383"/><stop offset="0.5397" stop-color="#808080"/><stop offset="0.6308" stop-color="#7a7a7a"/><stop offset="0.6764" stop-color="#787878"/><stop offset="0.722" stop-color="#757575"/><stop offset="0.8131" stop-color="#757575"/><stop offset="0.9043" stop-color="#707070"/><stop offset="0.9316" stop-color="#6f6f6f"/><stop offset="0.9991" stop-color="#666666"/></linearGradient>
<linearGradient id="g113" gradientUnits="userSpaceOnUse" x1="208" x2="1305"><stop offset="0" stop-color="#999999"/><stop offset="0.08387" stop-color="#949494"/><stop offset="0.175" stop-color="#8f8f8f"/><stop offset="0.2662" stop-color="#8b8b8b"/><stop offset="0.3573" stop-color="#888888"/><stop offset="0.3938" stop-color="#878787"/><stop offset="0.4303" stop-color="#858585"/><stop offset="0.4485" stop-color="#858585"/><stop offset="0.4667" stop-color="#848484"/><stop offset="0.5397" stop-color="#808080"/><stop offset="0.6308" stop-color="#7b7b7b"/><stop offset="0.6764" stop-color="#787878"/><stop offset="0.722" stop-color="#757575"/><stop offset="0.8131" stop-color="#757575"/><stop offset="0.9043" stop-color="#707070"/><stop offset="0.9316" stop-color="#6f6f6f"/><stop offset="0.9991" stop-color="#666666"/></linearGradient>
<linearGradient id="g114" gradientUnits="userSpaceOnUse" x1="208" x2="1305"><stop offset="0" stop-color="#959595"/><stop offset="0.08387" stop-color="#929292"/><stop offset="0.175" stop-color="#8d8d8d"/><stop offset="0.2662" stop-color="#8a8a8a"/><stop offset="0.3573" stop-color="#878787"/><stop offset="0.3938" stop-color="#868686"/><stop offset="0.4303" stop-color="#858585"/><stop offset="0.4485" stop-color="#848484"/><stop offset="0.4667" stop-color="#838383"/><stop offset="0.5397" stop-color="#808080"/><stop offset="0.6308" stop-color="#7b7b7b"/><stop offset="0.6764" stop-color="#787878"/><stop offset="0.722" stop-color="#757575"/><stop offset="0.8131" stop-color="#757575"/><stop offset="0.9043" stop-color="#707070"/><stop offset="0.9316" stop-color="#6f6f6f"/><stop offset="0.9991" stop-color="#666666"/></linearGradient>
<linearGradient id="g115" gradientUnits="userSpaceOnUse" x1="208" x2="1305"><stop offset="0" stop-color="#929292"/><stop offset="0.08387" stop-color="#8f8f8f"/><stop offset="0.175" stop-color="#8b8b8b"/><stop offset="0.2662" stop-color="#888888"/><stop offset="0.3573" stop-color="#868686"/><stop offset="0.3938" stop-color="#858585"/><stop offset="0.4303" stop-color="#848484"/><stop offset="0.4485" stop-color="#838383"/><stop offset="0.4667" stop-color="#828282"/><stop offset="0.5397" stop-color="#7f7f7f"/><stop offset="0.6308" stop-color="#7a7a7a"/><stop offset="0.6764" stop-color="#787878"/><stop offset="0.722" stop-color="#757575"/><stop offset="0.8131" stop-color="#757575"/><stop offset="0.9043" stop-color="#707070"/><stop offset="0.9316" stop-color="#6f6f6f"/><stop offset="0.9991" stop-color="#666666"/></linearGradient>
<linearGradient id="g116" gradientUnits="userSpaceOnUse" x1="208" x2="1305"><stop offset="0" stop-color="#979797"/><stop offset="0.08387" stop-color="#939393"/><stop offset="0.175" stop-color="#8e8e8e"/><stop offset="0.2662" stop-color="#8a8a8a"/><stop offset="0.3573" stop-color="#878787"/><stop offset="0.3938" stop-color="#868686"/><stop offset="0.4303" stop-color="#858585"/><stop offset="0.4485" stop-color="#848484"/><stop offset="0.4667" stop-color="#848484"/><stop offset="0.5397" stop-color="#808080"/><stop offset="0.6308" stop-color="#7b7b7b"/><stop offset="0.6764" stop-color="#787878"/><stop offset="0.722" stop-color="#757575"/><stop offset="0.8131" stop-color="#757575"/><stop offset="0.9043" stop-color="#707070"/><stop offset="0.9316" stop-color="#6f6f6f"/><stop offset="0.9991" stop-color="#666666"/></linearGradient>
<linearGradient id="g117" gradientUnits="userSpaceOnUse" x1="208" x2="1305"><stop offset="0" stop-color="#909090"/><stop offset="0.08387" stop-color="#8d8d8d"/><stop offset="0.175" stop-color="#8a8a8a"/><stop offset="0.2662" stop-color="#878787"/><stop offset="0.3573" stop-color="#858585"/><stop offset="0.3938" stop-color="#848484"/><stop offset="0.4303" stop-color="#838383"/><stop offset="0.4485" stop-color="#838383"/><stop offset="0.4667" stop-color="#828282"/><stop offset="0.5397" stop-color="#7f7f7f"/><stop offset="0.6308" stop-color="#7a7a7a"/><stop offset="0.6764" stop-color="#787878"/><stop offset="0.722" stop-color="#757575"/><stop offset="0.8131" stop-color="#747474"/><stop offset="0.9043" stop-color="#707070"/><stop offset="0.9316" stop-color="#6f6f6f"/><stop offset="0.9991" stop-color="#666666"/></linearGradient>
<linearGradient id="g118" gradientUnits="userSpaceOnUse" x1="208" x2="1305"><stop offset="0" stop-color="#888888"/><stop offset="0.08387" stop-color="#878787"/><stop offset="0.175" stop-color="#858585"/><stop offset="0.2662" stop-color="#848484"/><stop offset="0.3573" stop-color="#828282"/><stop offset="0.3938" stop-color="#828282"/><stop offset="0.4303" stop-color="#818181"/><stop offset="0.4485" stop-color="#818181"/><stop offset="0.4667" stop-color="#808080"/><stop offset="0.5397" stop-color="#7e7e7e"/><stop offset="0.6308" stop-color="#7a7a7a"/><stop offset="0.6764" stop-color="#777777"/><stop offset="0.722" stop-color="#757575"/><stop offset="0.8131" stop-color="#747474"/><stop offset="0.9043" stop-color="#707070"/><stop offset="0.9316" stop-color="#6f6f6f"/><stop offset="0.9991" stop-color="#666666"/></linearGradient>
<linearGradient id="g119" gradientUnits="userSpaceOnUse" x1="208" x2="1305"><stop offset="0" stop-color="#7e7e7e"/><stop offset="0.08387" stop-color="#7e7e7e"/><stop offset="0.175" stop-color="#7f7f7f"/><stop offset="0.2662" stop-color="#7f7f7f"/><stop offset="0.3573" stop-color="#7f7f7f"/><stop offset="0.3938" stop-color="#7f7f7f"/><stop offset="0.4303" stop-color="#7f7f7f"/><stop offset="0.4485" stop-color="#7f7f7f"/><stop offset="0.4667" stop-color="#7e7e7e"/><stop offset="0.5397" stop-color="#7d7d7d"/><stop offset="0.6308" stop-color="#797979"/><stop offset="0.6764" stop-color="#777777"/><stop offset="0.722" stop-color="#757575"/><stop offset="0.8131" stop-color="#747474"/><stop offset="0.9043" stop-color="#747474"/><stop offset="0.9316" stop-color="#737373"/><stop offset="0.9991" stop-color="#737373"/></linearGradient>
<linearGradient id="g120" gradientUnits="userSpaceOnUse" x1="208" x2="1305"><stop offset="0" stop-color="#838383"/><stop offset="0.08387" stop-color="#838383"/><stop offset="0.175" stop-color="#848484"/><stop offset="0.2662" stop-color="#848484"/><stop offset="0.3573" stop-color="#848484"/><stop offset="0.3938" stop-color="#848484"/><stop offset="0.4303" stop-color="#838383"/><stop offset="0.4485" stop-color="#838383"/><stop offset="0.4667" stop-color="#838383"/><stop offset="0.5397" stop-color="#818181"/><stop offset="0.6308" stop-color="#7e7e7e"/><stop offset="0.6764" stop-color="#7d7d7d"/><stop offset="0.722" stop-color="#7c7c7c"/><stop offset="0.8131" stop-color="#7c7c7c"/><stop offset="0.9043" stop-color="#7b7b7b"/><stop offset="0.9316" stop-color="#7b7b7b"/><stop offset="0.9991" stop-color="#7a7a7a"/></linearGradient>
<linearGradient id="g121" gradientUnits="userSpaceOnUse" x1="208" x2="1305"><stop offset="0" stop-color="#8b8b8b"/><stop offset="0.08387" stop-color="#8a8a8a"/><stop offset="0.175" stop-color="#898989"/><stop offset="0.2662" stop-color="#888888"/><stop offset="0.3573" stop-color="#878787"/><stop offset="0.3938" stop-color="#878787"/><stop offset="0.4303" stop-color="#868686"/><stop offset="0.4485" stop-color="#868686"/><stop offset="0.4667" stop-color="#858585"/><stop offset="0.5397" stop-color="#838383"/><stop offset="0.6308" stop-color="#808080"/><stop offset="0.6764" stop-color="#7e7e7e"/><stop offset="0.722" stop-color="#7d7d7d"/><stop offset="0.8131" stop-color="#7c7c7c"/><stop offset="0.9043" stop-color="#7c7c7c"/><stop offset="0.9316" stop-color="#7c7c7c"/><stop offset="0.9991" stop-color="#7b7b7b"/></linearGradient>
</defs>
<rect x="208" y="90" width="1097" height="979" fill="#00008f"/>
<g shape-rendering="crispEdges">
<g filter="url(#f)" transform="translate(0,-2372)"><rect x="208" y="3410" width="1097" height="7" fill="url(#g4)"/><rect x="208" y="3410" width="1097" height="7" fill="url(#gb)" opacity="0.072"/></g>
<g filter="url(#f)" transform="translate(0,-2965)"><rect x="208" y="3995" width="1097" height="8" fill="url(#g5)"/><rect x="208" y="3995" width="1097" height="8" fill="url(#gb)" opacity="0.12"/></g>
<g filter="url(#f)" transform="translate(0,-3558)"><rect x="208" y="4581" width="1097" height="7" fill="url(#g6)"/><rect x="208" y="4581" width="1097" height="7" fill="url(#gb)" opacity="0.224"/></g>
<g filter="url(#f)" transform="translate(0,-4151)"><rect x="208" y="5166" width="1097" height="8" fill="url(#g7)"/><rect x="208" y="5166" width="1097" height="8" fill="url(#gb)" opacity="0.443"/></g>
<g filter="url(#f)" transform="translate(0,-4744)"><rect x="208" y="5751" width="1097" height="8" fill="url(#g8)"/><rect x="208" y="5751" width="1097" height="8" fill="url(#gb)" opacity="0.733"/></g>
<g filter="url(#f)" transform="translate(0,-5337)"><rect x="208" y="6337" width="1097" height="7" fill="url(#g9)"/><rect x="208" y="6337" width="1097" height="7" fill="url(#gb)" opacity="0.709"/></g>
<g filter="url(#f)" transform="translate(0,-5930)"><rect x="208" y="6922" width="1097" height="8" fill="url(#g10)"/><rect x="208" y="6922" width="1097" height="8" fill="url(#gb)" opacity="0.568"/></g>
<g filter="url(#f)" transform="translate(0,-6523)"><rect x="208" y="7507" width="1097" height="8" fill="url(#g11)"/><rect x="208" y="7507" width="1097" height="8" fill="url(#gb)" opacity="0.41"/></g>
<g filter="url(#f)" transform="translate(0,-7116)"><rect x="208" y="8093" width="1097" height="7" fill="url(#g12)"/><rect x="208" y="8093" width="1097" height="7" fill="url(#gb)" opacity="0.224"/></g>
<g filter="url(#f)" transform="translate(0,-7709)"><rect x="208" y="8678" width="1097" height="8" fill="url(#g13)"/><rect x="208" y="8678" width="1097" height="8" fill="url(#gb)" opacity="0.138"/></g>
<g filter="url(#f)" transform="translate(0,-8302)"><rect x="208" y="9263" width="1097" height="8" fill="url(#g14)"/></g>
<g filter="url(#f)" transform="translate(0,-8895)"><rect x="208" y="9849" width="1097" height="7" fill="url(#g15)"/></g>
<g filter="url(#f)" transform="translate(0,-9488)"><rect x="208" y="10434" width="1097" height="8" fill="url(#g16)"/></g>
<g filter="url(#f)" transform="translate(0,-10081)"><rect x="208" y="11019" width="1097" height="8" fill="url(#g17)"/></g>
<g filter="url(#f)" transform="translate(0,-10674)"><rect x="208" y="11605" width="1097" height="7" fill="url(#g18)"/></g>
<g filter="url(#f)" transform="translate(0,-11267)"><rect x="208" y="12190" width="1097" height="8" fill="url(#g19)"/></g>
<g filter="url(#f)" transform="translate(0,-11860)"><rect x="208" y="12775" width="1097" height="8" fill="url(#g20)"/></g>
<g filter="url(#f)" transform="translate(0,-12453)"><rect x="208" y="13361" width="1097" height="7" fill="url(#g21)"/></g>
<g filter="url(#f)" transform="translate(0,-13046)"><rect x="208" y="13946" width="1097" height="8" fill="url(#g22)"/></g>
<g filter="url(#f)" transform="translate(0,-13639)"><rect x="208" y="14531" width="1097" height="8" fill="url(#g23)"/></g>
<g filter="url(#f)" transform="translate(0,-14232)"><rect x="208" y="15117" width="1097" height="7" fill="url(#g24)"/></g>
<g filter="url(#f)" transform="translate(0,-14825)"><rect x="208" y="15702" width="1097" height="8" fill="url(#g25)"/></g>
<g filter="url(#f)" transform="translate(0,-15418)"><rect x="208" y="16288" width="1097" height="7" fill="url(#g26)"/></g>
<g filter="url(#f)" transform="translate(0,-16011)"><rect x="208" y="16873" width="1097" height="8" fill="url(#g27)"/></g>
<g filter="url(#f)" transform="translate(0,-16604)"><rect x="208" y="17458" width="1097" height="8" fill="url(#g28)"/></g>
<g filter="url(#f)" transform="translate(0,-17197)"><rect x="208" y="18044" width="1097" height="7" fill="url(#g29)"/></g>
<g filter="url(#f)" transform="translate(0,-17790)"><rect x="208" y="18629" width="1097" height="8" fill="url(#g30)"/></g>
<g filter="url(#f)" transform="translate(0,-18383)"><rect x="208" y="19214" width="1097" height="8" fill="url(#g31)"/></g>
<g filter="url(#f)" transform="translate(0,-18976)"><rect x="208" y="19800" width="1097" height="7" fill="url(#g32)"/></g>
<g filter="url(#f)" transform="translate(0,-19569)"><rect x="208" y="20385" width="1097" height="8" fill="url(#g33)"/></g>
<g filter="url(#f)" transform="translate(0,-20162)"><rect x="208" y="20970" width="1097" height="8" fill="url(#g34)"/></g>
<g filter="url(#f)" transform="translate(0,-20755)"><rect x="208" y="21556" width="1097" height="7" fill="url(#g35)"/></g>
<g filter="url(#f)" transform="translate(0,-21348)"><rect x="208" y="22141" width="1097" height="8" fill="url(#g36)"/></g>
<g filter="url(#f)" transform="translate(0,-21941)"><rect x="208" y="22726" width="1097" height="8" fill="url(#g37)"/></g>
<g filter="url(#f)" transform="translate(0,-22534)"><rect x="208" y="23312" width="1097" height="7" fill="url(#g38)"/></g>
<g filter="url(#f)" transform="translate(0,-23127)"><rect x="208" y="23897" width="1097" height="8" fill="url(#g39)"/></g>
<g filter="url(#f)" transform="translate(0,-23720)"><rect x="208" y="24482" width="1097" height="8" fill="url(#g40)"/><rect x="208" y="24482" width="1097" height="8" fill="url(#gb)" opacity="0.142"/></g>
<g filter="url(#f)" transform="translate(0,-24313)"><rect x="208" y="25068" width="1097" height="7" fill="url(#g41)"/><rect x="208" y="25068" width="1097" height="7" fill="url(#gb)" opacity="0.0945"/></g>
<g filter="url(#f)" transform="translate(0,-24906)"><rect x="208" y="25653" width="1097" height="8" fill="url(#g42)"/><rect x="208" y="25653" width="1097" height="8" fill="url(#gb)" opacity="0.0945"/></g>
<g filter="url(#f)" transform="translate(0,-25499)"><rect x="208" y="26239" width="1097" height="7" fill="url(#g43)"/><rect x="208" y="26239" width="1097" height="7" fill="url(#gb)" opacity="0.118"/></g>
<g filter="url(#f)" transform="translate(0,-26092)"><rect x="208" y="26824" width="1097" height="8" fill="url(#g44)"/><rect x="208" y="26824" width="1097" height="8" fill="url(#gb)" opacity="0.142"/></g>
<g filter="url(#f)" transform="translate(0,-26685)"><rect x="208" y="27409" width="1097" height="8" fill="url(#g45)"/><rect x="208" y="27409" width="1097" height="8" fill="url(#gb)" opacity="0.165"/></g>
<g filter="url(#f)" transform="translate(0,-27278)"><rect x="208" y="27995" width="1097" height="7" fill="url(#g46)"/><rect x="208" y="27995" width="1097" height="7" fill="url(#gb)" opacity="0.236"/></g>
<g filter="url(#f)" transform="translate(0,-27871)"><rect x="208" y="28580" width="1097" height="8" fill="url(#g47)"/><rect x="208" y="28580" width="1097" height="8" fill="url(#gb)" opacity="0.284"/></g>
<g filter="url(#f)" transform="translate(0,-28464)"><rect x="208" y="29165" width="1097" height="8" fill="url(#g48)"/><rect x="208" y="29165" width="1097" height="8" fill="url(#gb)" opacity="0.307"/></g>
<g filter="url(#f)" transform="translate(0,-29057)"><rect x="208" y="29751" width="1097" height="7" fill="url(#g49)"/><rect x="208" y="29751" width="1097" height="7" fill="url(#gb)" opacity="0.26"/></g>
<g filter="url(#f)" transform="translate(0,-29650)"><rect x="208" y="30336" width="1097" height="8" fill="url(#g50)"/><rect x="208" y="30336" width="1097" height="8" fill="url(#gb)" opacity="0.213"/></g>
<g filter="url(#f)" transform="translate(0,-30243)"><rect x="208" y="30921" width="1097" height="8" fill="url(#g51)"/><rect x="208" y="30921" width="1097" height="8" fill="url(#gb)" opacity="0.213"/></g>
<g filter="url(#f)" transform="translate(0,-30836)"><rect x="208" y="31507" width="1097" height="7" fill="url(#g52)"/><rect x="208" y="31507" width="1097" height="7" fill="url(#gb)" opacity="0.26"/></g>
<g filter="url(#f)" transform="translate(0,-31429)"><rect x="208" y="32092" width="1097" height="8" fill="url(#g53)"/><rect x="208" y="32092" width="1097" height="8" fill="url(#gb)" opacity="0.307"/></g>
<g filter="url(#f)" transform="translate(0,-32022)"><rect x="208" y="32677" width="1097" height="8" fill="url(#g54)"/><rect x="208" y="32677" width="1097" height="8" fill="url(#gb)" opacity="0.331"/></g>
<g filter="url(#f)" transform="translate(0,-32615)"><rect x="208" y="33263" width="1097" height="7" fill="url(#g55)"/><rect x="208" y="33263" width="1097" height="7" fill="url(#gb)" opacity="0.331"/></g>
<g filter="url(#f)" transform="translate(0,-33208)"><rect x="208" y="33848" width="1097" height="8" fill="url(#g56)"/><rect x="208" y="33848" width="1097" height="8" fill="url(#gb)" opacity="0.284"/></g>
<g filter="url(#f)" transform="translate(0,-33801)"><rect x="208" y="34433" width="1097" height="8" fill="url(#g57)"/><rect x="208" y="34433" width="1097" height="8" fill="url(#gb)" opacity="0.307"/></g>
<g filter="url(#f)" transform="translate(0,-34394)"><rect x="208" y="35019" width="1097" height="7" fill="url(#g58)"/><rect x="208" y="35019" width="1097" height="7" fill="url(#gb)" opacity="0.544"/></g>
<g filter="url(#f)" transform="translate(0,-34987)"><rect x="208" y="35604" width="1097" height="8" fill="url(#g59)"/><rect x="208" y="35604" width="1097" height="8" fill="url(#gb)" opacity="0.685"/></g>
<g filter="url(#f)" transform="translate(0,-35580)"><rect x="208" y="36189" width="1097" height="8" fill="url(#g60)"/><rect x="208" y="36189" width="1097" height="8" fill="url(#gb)" opacity="0.591"/></g>
<g filter="url(#f)" transform="translate(0,-36173)"><rect x="208" y="36775" width="1097" height="7" fill="url(#g61)"/><rect x="208" y="36775" width="1097" height="7" fill="url(#gb)" opacity="0.378"/></g>
<g filter="url(#f)" transform="translate(0,-40324)"><rect x="208" y="40872" width="1097" height="8" fill="url(#g68)"/></g>
<g filter="url(#f)" transform="translate(0,-40917)"><rect x="208" y="41458" width="1097" height="7" fill="url(#g69)"/></g>
<g filter="url(#f)" transform="translate(0,-41510)"><rect x="208" y="42043" width="1097" height="8" fill="url(#g70)"/></g>
<g filter="url(#f)" transform="translate(0,-42103)"><rect x="208" y="42628" width="1097" height="8" fill="url(#g71)"/></g>
<g filter="url(#f)" transform="translate(0,-42696)"><rect x="208" y="43214" width="1097" height="7" fill="url(#g72)"/></g>
<g filter="url(#f)" transform="translate(0,-43289)"><rect x="208" y="43799" width="1097" height="8" fill="url(#g73)"/></g>
<g filter="url(#f)" transform="translate(0,-43882)"><rect x="208" y="44384" width="1097" height="8" fill="url(#g74)"/></g>
<g filter="url(#f)" transform="translate(0,-44475)"><rect x="208" y="44970" width="1097" height="7" fill="url(#g75)"/></g>
<g filter="url(#f)" transform="translate(0,-45068)"><rect x="208" y="45555" width="1097" height="8" fill="url(#g76)"/></g>
<g filter="url(#f)" transform="translate(0,-45661)"><rect x="208" y="46140" width="1097" height="8" fill="url(#g77)"/></g>
<g filter="url(#f)" transform="translate(0,-46254)"><rect x="208" y="46726" width="1097" height="7" fill="url(#g78)"/></g>
<g filter="url(#f)" transform="translate(0,-46847)"><rect x="208" y="47311" width="1097" height="8" fill="url(#g79)"/></g>
<g filter="url(#f)" transform="translate(0,-47440)"><rect x="208" y="47897" width="1097" height="7" fill="url(#g80)"/></g>
<g filter="url(#f)" transform="translate(0,-48033)"><rect x="208" y="48482" width="1097" height="8" fill="url(#g81)"/></g>
<g filter="url(#f)" transform="translate(0,-48626)"><rect x="208" y="49067" width="1097" height="8" fill="url(#g82)"/></g>
<g filter="url(#f)" transform="translate(0,-49219)"><rect x="208" y="49653" width="1097" height="7" fill="url(#g83)"/></g>
<g filter="url(#f)" transform="translate(0,-49812)"><rect x="208" y="50238" width="1097" height="8" fill="url(#g84)"/></g>
<g filter="url(#f)" transform="translate(0,-50405)"><rect x="208" y="50823" width="1097" height="8" fill="url(#g85)"/></g>
<g filter="url(#f)" transform="translate(0,-50998)"><rect x="208" y="51409" width="1097" height="7" fill="url(#g86)"/></g>
<g filter="url(#f)" transform="translate(0,-51591)"><rect x="208" y="51994" width="1097" height="8" fill="url(#g87)"/></g>
<g filter="url(#f)" transform="translate(0,-52184)"><rect x="208" y="52579" width="1097" height="8" fill="url(#g88)"/></g>
<g filter="url(#f)" transform="translate(0,-52777)"><rect x="208" y="53165" width="1097" height="7" fill="url(#g89)"/></g>
<g filter="url(#f)" transform="translate(0,-53370)"><rect x="208" y="53750" width="1097" height="8" fill="url(#g90)"/></g>
<g filter="url(#f)" transform="translate(0,-53963)"><rect x="208" y="54335" width="1097" height="8" fill="url(#g91)"/></g>
<g filter="url(#f)" transform="translate(0,-54556)"><rect x="208" y="54921" width="1097" height="7" fill="url(#g92)"/></g>
<g filter="url(#f)" transform="translate(0,-55149)"><rect x="208" y="55506" width="1097" height="8" fill="url(#g93)"/></g>
<g filter="url(#f)" transform="translate(0,-55742)"><rect x="208" y="56091" width="1097" height="8" fill="url(#g94)"/></g>
<g filter="url(#f)" transform="translate(0,-56335)"><rect x="208" y="56677" width="1097" height="7" fill="url(#g95)"/></g>
<g filter="url(#f)" transform="translate(0,-56928)"><rect x="208" y="57262" width="1097" height="8" fill="url(#g96)"/></g>
<g filter="url(#f)" transform="translate(0,-57521)"><rect x="208" y="57847" width="1097" height="8" fill="url(#g97)"/></g>
<g filter="url(#f)" transform="translate(0,-58114)"><rect x="208" y="58433" width="1097" height="7" fill="url(#g98)"/></g>
<g filter="url(#f)" transform="translate(0,-58707)"><rect x="208" y="59018" width="1097" height="8" fill="url(#g99)"/></g>
<g filter="url(#f)" transform="translate(0,-59300)"><rect x="208" y="59604" width="1097" height="7" fill="url(#g100)"/></g>
<g filter="url(#f)" transform="translate(0,-59893)"><rect x="208" y="60189" width="1097" height="8" fill="url(#g101)"/></g>
<g filter="url(#f)" transform="translate(0,-60486)"><rect x="208" y="60774" width="1097" height="8" fill="url(#g102)"/></g>
<g filter="url(#f)" transform="translate(0,-61079)"><rect x="208" y="61360" width="1097" height="7" fill="url(#g103)"/></g>
<g filter="url(#f)" transform="translate(0,-61672)"><rect x="208" y="61945" width="1097" height="8" fill="url(#g104)"/></g>
<g filter="url(#f)" transform="translate(0,-62265)"><rect x="208" y="62530" width="1097" height="8" fill="url(#g105)"/></g>
<g filter="url(#f)" transform="translate(0,-62858)"><rect x="208" y="63116" width="1097" height="7" fill="url(#g106)"/></g>
<g filter="url(#f)" transform="translate(0,-63451)"><rect x="208" y="63701" width="1097" height="8" fill="url(#g107)"/></g>
<g filter="url(#f)" transform="translate(0,-64044)"><rect x="208" y="64286" width="1097" height="8" fill="url(#g108)"/></g>
<g filter="url(#f)" transform="translate(0,-64637)"><rect x="208" y="64872" width="1097" height="7" fill="url(#g109)"/></g>
<g filter="url(#f)" transform="translate(0,-65230)"><rect x="208" y="65457" width="1097" height="8" fill="url(#g110)"/></g>
<g filter="url(#f)" transform="translate(0,-65823)"><rect x="208" y="66042" width="1097" height="8" fill="url(#g111)"/></g>
<g filter="url(#f)" transform="translate(0,-66416)"><rect x="208" y="66628" width="1097" height="7" fill="url(#g112)"/></g>
<g filter="url(#f)" transform="translate(0,-67009)"><rect x="208" y="67213" width="1097" height="8" fill="url(#g113)"/></g>
<g filter="url(#f)" transform="translate(0,-67602)"><rect x="208" y="67798" width="1097" height="8" fill="url(#g114)"/></g>
<g filter="url(#f)" transform="translate(0,-68195)"><rect x="208" y="68384" width="1097" height="7" fill="url(#g115)"/></g>
<g filter="url(#f)" transform="translate(0,-68788)"><rect x="208" y="68969" width="1097" height="8" fill="url(#g116)"/></g>
<g filter="url(#f)" transform="translate(0,-69381)"><rect x="208" y="69555" width="1097" height="7" fill="url(#g117)"/></g>
<g filter="url(#f)" transform="translate(0,-69974)"><rect x="208" y="70140" width="1097" height="8" fill="url(#g118)"/></g>
<g filter="url(#f)" transform="translate(0,-70567)"><rect x="208" y="70725" width="1097" height="8" fill="url(#g119)"/></g>
<g filter="url(#f)" transform="translate(0,-71160)"><rect x="208" y="71311" width="1097" height="7" fill="url(#g120)"/></g>
<g filter="url(#f)" transform="translate(0,-71753)"><rect x="208" y="71896" width="1097" height="8" fill="url(#g121)"/></g>
</g>
<g fill="#000" shape-rendering="crispEdges">
<rect x="208" y="90" width="1097" height="1"/><rect x="208" y="1068" width="1097" height="1"/><rect x="208" y="90" width="1" height="979"/><rect x="1304" y="90" width="1" height="979"/>
<rect x="360" y="1057" width="1" height="11"/><rect x="360" y="91" width="1" height="10"/><rect x="513" y="1057" width="1" height="11"/><rect x="513" y="91" width="1" height="10"/><rect x="665" y="1057" width="1" height="11"/><rect x="665" y="91" width="1" height="10"/><rect x="817" y="1057" width="1" height="11"/><rect x="817" y="91" width="1" height="10"/><rect x="969" y="1057" width="1" height="11"/><rect x="969" y="91" width="1" height="10"/><rect x="1121" y="1057" width="1" height="11"/><rect x="1121" y="91" width="1" height="10"/><rect x="1273" y="1057" width="1" height="11"/><rect x="1273" y="91" width="1" height="10"/>
<rect x="209" y="919" width="10" height="1"/><rect x="1293" y="919" width="11" height="1"/><rect x="209" y="766" width="10" height="1"/><rect x="1293" y="766" width="11" height="1"/><rect x="209" y="613" width="10" height="1"/><rect x="1293" y="613" width="11" height="1"/><rect x="209" y="460" width="10" height="1"/><rect x="1293" y="460" width="11" height="1"/><rect x="209" y="307" width="10" height="1"/><rect x="1293" y="307" width="11" height="1"/><rect x="209" y="154" width="10" height="1"/><rect x="1293" y="154" width="11" height="1"/>
</g>
<g shape-rendering="crispEdges">
<rect x="1346" y="1055" width="57" height="15" fill="#00008f"/><rect x="1346" y="1039" width="57" height="16" fill="#00009f"/><rect x="1346" y="1024" width="57" height="15" fill="#0000af"/><rect x="1346" y="1009" width="57" height="15" fill="#0000bf"/><rect x="1346" y="993" width="57" height="16" fill="#0000cf"/><rect x="1346" y="978" width="57" height="15" fill="#0000df"/><rect x="1346" y="963" width="57" height="15" fill="#0000ef"/><rect x="1346" y="948" width="57" height="15" fill="#0000ff"/><rect x="1346" y="932" width="57" height="16" fill="#0010ff"/><rect x="1346" y="917" width="57" height="15" fill="#0020ff"/><rect x="1346" y="902" width="57" height="15" fill="#0030ff"/><rect x="1346" y="886" width="57" height="16" fill="#0040ff"/><rect x="1346" y="871" width="57" height="15" fill="#0050ff"/><rect x="1346" y="856" width="57" height="15" fill="#0060ff"/><rect x="1346" y="840" width="57" height="16" fill="#0070ff"/><rect x="1346" y="825" width="57" height="15" fill="#0080ff"/><rect x="1346" y="810" width="57" height="15" fill="#008fff"/><rect x="1346" y="794" width="57" height="16" fill="#009fff"/><rect x="1346" y="779" width="57" height="15" fill="#00afff"/><rect x="1346" y="764" width="57" height="15" fill="#00bfff"/><rect x="1346" y="748" width="57" height="16" fill="#00cfff"/><rect x="1346" y="733" width="57" height="15" fill="#00dfff"/><rect x="1346" y="718" width="57" height="15" fill="#00efff"/><rect x="1346" y="702" width="57" height="16" fill="#00ffff"/><rect x="1346" y="687" width="57" height="15" fill="#10ffef"/><rect x="1346" y="672" width="57" height="15" fill="#20ffdf"/><rect x="1346" y="657" width="57" height="15" fill="#30ffcf"/><rect x="1346" y="641" width="57" height="16" fill="#40ffbf"/><rect x="1346" y="626" width="57" height="15" fill="#50ffaf"/><rect x="1346" y="611" width="57" height="15" fill="#60ff9f"/><rect x="1346" y="595" width="57" height="16" fill="#70ff8f"/><rect x="1346" y="580" width="57" height="15" fill="#80ff80"/><rect x="1346" y="565" width="57" height="15" fill="#8fff70"/><rect x="1346" y="549" width="57" height="16" fill="#9fff60"/><rect x="1346" y="534" width="57" height="15" fill="#afff50"/><rect x="1346" y="519" width="57" height="15" fill="#bfff40"/><rect x="1346" y="503" width="57" height="16" fill="#cfff30"/><rect x="1346" y="488" width="57" height="15" fill="#dfff20"/><rect x="1346" y="473" width="57" height="15" fill="#efff10"/><rect x="1346" y="458" width="57" height="15" fill="#ffff00"/><rect x="1346" y="442" width="57" height="16" fill="#ffef00"/><rect x="1346" y="427" width="57" height="15" fill="#ffdf00"/><rect x="1346" y="412" width="57" height="15" fill="#ffcf00"/><rect x="1346" y="396" width="57" height="16" fill="#ffbf00"/><rect x="1346" y="381" width="57" height="15" fill="#ffaf00"/><rect x="1346" y="366" width="57" height="15" fill="#ff9f00"/><rect x="1346" y="350" width="57" height="16" fill="#ff8f00"/><rect x="1346" y="335" width="57" height="15" fill="#ff8000"/><rect x="1346" y="320" width="57" height="15" fill="#ff7000"/><rect x="1346" y="304" width="57" height="16" fill="#ff6000"/><rect x="1346" y="289" width="57" height="15" fill="#ff5000"/><rect x="1346" y="274" width="57" height="15" fill="#ff4000"/><rect x="1346" y="258" width="57" height="16" fill="#ff3000"/><rect x="1346" y="243" width="57" height="15" fill="#ff2000"/><rect x="1346" y="228" width="57" height="15" fill="#ff1000"/><rect x="1346" y="212" width="57" height="16" fill="#ff0000"/><rect x="1346" y="197" width="57" height="15" fill="#ef0000"/><rect x="1346" y="182" width="57" height="15" fill="#df0000"/><rect x="1346" y="167" width="57" height="15" fill="#cf0000"/><rect x="1346" y="151" width="57" height="16" fill="#bf0000"/><rect x="1346" y="136" width="57" height="15" fill="#af0000"/><rect x="1346" y="121" width="57" height="15" fill="#9f0000"/><rect x="1346" y="105" width="57" height="16" fill="#8f0000"/><rect x="1346" y="90" width="57" height="15" fill="#800000"/>
<g fill="#000"><rect x="1346" y="90" width="57" height="1"/><rect x="1346" y="1069" width="57" height="1"/><rect x="1346" y="90" width="1" height="980"/><rect x="1402" y="90" width="1" height="980"/>
<rect x="1347" y="966" width="9" height="1"/><rect x="1392" y="966" width="10" height="1"/><rect x="1347" y="837" width="9" height="1"/><rect x="1392" y="837" width="10" height="1"/><rect x="1347" y="708" width="9" height="1"/><rect x="1392" y="708" width="10" height="1"/><rect x="1347" y="580" width="9" height="1"/><rect x="1392" y="580" width="10" height="1"/><rect x="1347" y="451" width="9" height="1"/><rect x="1392" y="451" width="10" height="1"/><rect x="1347" y="322" width="9" height="1"/><rect x="1392" y="322" width="10" height="1"/><rect x="1347" y="193" width="9" height="1"/><rect x="1392" y="193" width="10" height="1"/></g>
</g>
<text transform="translate(755.5,67.0) scale(1.0,1.07)" text-anchor="middle">UU</text>
<text transform="translate(360.5,1100.0) scale(0.95,1.07)" text-anchor="middle">0.5</text><text transform="translate(513.5,1100.0) scale(0.95,1.07)" text-anchor="middle">1</text><text transform="translate(665.5,1100.0) scale(0.95,1.07)" text-anchor="middle">1.5</text><text transform="translate(817.5,1100.0) scale(0.95,1.07)" text-anchor="middle">2</text><text transform="translate(969.5,1100.0) scale(0.95,1.07)" text-anchor="middle">2.5</text><text transform="translate(1121.5,1100.0) scale(0.95,1.07)" text-anchor="middle">3</text><text transform="translate(1273.5,1100.0) scale(0.95,1.07)" text-anchor="middle">3.5</text>
<text transform="translate(200.0,926.9) scale(0.95,1.07)" text-anchor="end">20</text><text transform="translate(200.0,773.9) scale(0.95,1.07)" text-anchor="end">40</text><text transform="translate(200.0,620.9) scale(0.95,1.07)" text-anchor="end">60</text><text transform="translate(200.0,467.9) scale(0.95,1.07)" text-anchor="end">80</text><text transform="translate(200.0,315.0) scale(0.95,1.07)" text-anchor="end">100</text><text transform="translate(200.0,162.0) scale(0.95,1.07)" text-anchor="end">120</text>
<text transform="translate(1409.5,973.8) scale(0.95,1.07)">-3000</text><text transform="translate(1409.5,845.0) scale(0.95,1.07)">-2000</text><text transform="translate(1409.5,716.2) scale(0.95,1.07)">-1000</text><text transform="translate(1409.5,587.5) scale(0.95,1.07)">0</text><text transform="translate(1409.5,458.8) scale(0.95,1.07)">1000</text><text transform="translate(1409.5,330.0) scale(0.95,1.07)">2000</text><text transform="translate(1409.5,201.2) scale(0.95,1.07)">3000</text>
<text transform="translate(1247.0,1147.6) scale(1.0,1.07)">x 10</text><text transform="translate(1295.0,1130.0) scale(1.0,1.0)" style="font-size:17.5px">5</text>
</svg>
</body></html>
